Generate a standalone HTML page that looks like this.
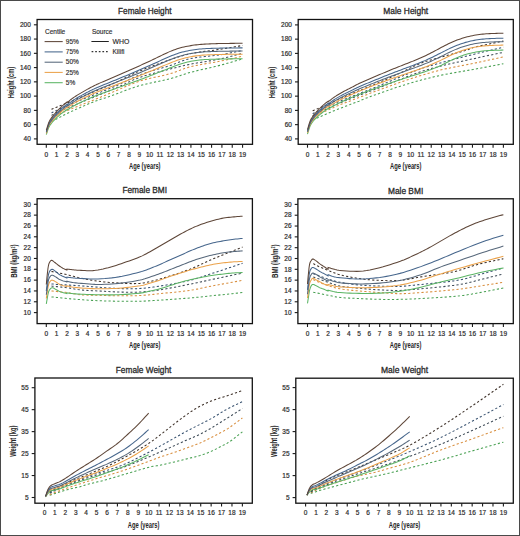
<!DOCTYPE html>
<html><head><meta charset="utf-8"><style>
html,body{margin:0;padding:0;background:#fff;}
svg{display:block;}
text{font-family:"Liberation Sans", sans-serif;fill:#2a2a2a;}
.tt{font-size:8.8px;font-weight:normal;fill:#2a2a2a;stroke:#2a2a2a;stroke-width:0.3px;}
.tl{font-size:6.5px;fill:#2e2e2e;stroke:#2e2e2e;stroke-width:0.2px;}
.al{font-size:8.4px;font-weight:bold;fill:#262626;}
.lg{font-size:6.5px;fill:#2e2e2e;stroke:#2e2e2e;stroke-width:0.15px;}
.box{fill:none;stroke:#121212;stroke-width:1.3;}
.tk{stroke:#1a1a1a;stroke-width:1.1;}
.cv{fill:none;stroke-width:1.05;}
</style></head><body>
<svg width="520" height="536" viewBox="0 0 520 536">
<rect x="0.5" y="0.5" width="519" height="535" fill="#fff" stroke="#4a4a4a" stroke-width="1"/>
<text x="144.80" y="14.20" class="tt" text-anchor="middle" textLength="53.5" lengthAdjust="spacingAndGlyphs">Female Height</text>
<path d="M51.46,121.43 L52.33,121.02 L53.19,120.61 L54.05,120.20 L54.91,119.78 L55.77,119.36 L56.63,118.93 L58.35,118.05 L60.07,117.15 L61.80,116.24 L63.52,115.33 L65.24,114.45 L66.96,113.58 L68.68,112.75 L70.40,111.93 L72.12,111.13 L73.85,110.35 L75.57,109.57 L77.29,108.81 L79.87,107.66 L82.45,106.51 L85.04,105.38 L87.62,104.27 L90.20,103.20 L92.78,102.17 L95.66,101.10 L98.54,100.09 L101.41,99.11 L104.29,98.15 L107.16,97.18 L110.04,96.18 L114.91,94.42 L119.78,92.58 L124.65,90.75 L129.53,88.96 L134.40,87.29 L139.27,85.77 L144.44,84.40 L149.60,83.21 L154.76,82.13 L159.93,81.08 L165.09,79.97 L170.26,78.71 L173.53,77.78 L176.80,76.73 L180.07,75.63 L183.34,74.52 L186.62,73.46 L189.89,72.51 L194.88,71.23 L199.87,70.04 L204.87,68.90 L209.86,67.78 L214.85,66.61 L219.84,65.38 L223.63,64.37 L227.42,63.30 L231.21,62.21 L234.99,61.10 L238.78,59.98 L242.57,58.89" stroke="#48a052" class="cv" stroke-dasharray="2.2,2.2"/>
<path d="M51.46,118.22 L52.33,117.74 L53.19,117.24 L54.05,116.75 L54.91,116.26 L55.77,115.80 L56.63,115.37 L58.35,114.55 L60.07,113.76 L61.80,112.98 L63.52,112.22 L65.24,111.48 L66.96,110.73 L68.68,110.00 L70.40,109.27 L72.12,108.56 L73.85,107.85 L75.57,107.15 L77.29,106.45 L80.73,105.08 L84.18,103.71 L87.62,102.35 L91.06,100.99 L94.51,99.63 L97.95,98.25 L99.96,97.43 L101.98,96.60 L103.99,95.77 L106.01,94.93 L108.02,94.09 L110.04,93.26 L114.91,91.20 L119.78,89.08 L124.65,86.96 L129.53,84.91 L134.40,82.99 L139.27,81.28 L144.44,79.75 L149.60,78.46 L154.76,77.31 L159.93,76.19 L165.09,75.00 L170.26,73.65 L173.53,72.61 L176.80,71.43 L180.07,70.18 L183.34,68.94 L186.62,67.82 L189.89,66.87 L194.88,65.73 L199.87,64.75 L204.87,63.88 L209.86,63.05 L214.85,62.19 L219.84,61.24 L223.63,60.45 L227.42,59.62 L231.21,58.77 L234.99,57.90 L238.78,57.03 L242.57,56.18" stroke="#d88e3e" class="cv" stroke-dasharray="2.2,2.2"/>
<path d="M51.46,115.37 L52.33,114.88 L53.19,114.38 L54.05,113.88 L54.91,113.39 L55.77,112.93 L56.63,112.51 L58.35,111.75 L60.07,111.02 L61.80,110.32 L63.52,109.63 L65.24,108.94 L66.96,108.24 L68.68,107.52 L70.40,106.81 L72.12,106.10 L73.85,105.38 L75.57,104.67 L77.29,103.96 L80.73,102.53 L84.18,101.10 L87.62,99.68 L91.06,98.25 L94.51,96.83 L97.95,95.40 L101.39,93.98 L104.84,92.57 L108.28,91.17 L111.72,89.75 L115.17,88.31 L118.61,86.84 L122.05,85.29 L125.50,83.65 L128.94,81.98 L132.38,80.37 L135.83,78.88 L139.27,77.57 L144.44,75.89 L149.60,74.37 L154.76,72.97 L159.93,71.64 L165.09,70.34 L170.26,69.01 L173.53,68.16 L176.80,67.32 L180.07,66.51 L183.34,65.73 L186.62,64.99 L189.89,64.31 L194.88,63.36 L199.87,62.51 L204.87,61.70 L209.86,60.88 L214.85,60.00 L219.84,59.03 L223.63,58.19 L227.42,57.27 L231.21,56.30 L234.99,55.30 L238.78,54.30 L242.57,53.33" stroke="#3f4c58" class="cv" stroke-dasharray="2.2,2.2"/>
<path d="M51.46,112.87 L52.33,112.45 L53.19,112.03 L54.05,111.61 L54.91,111.19 L55.77,110.78 L56.63,110.38 L58.35,109.58 L60.07,108.80 L61.80,108.02 L63.52,107.25 L65.24,106.49 L66.96,105.74 L68.68,105.00 L70.40,104.28 L72.12,103.56 L73.85,102.86 L75.57,102.16 L77.29,101.46 L80.73,100.08 L84.18,98.72 L87.62,97.37 L91.06,96.01 L94.51,94.64 L97.95,93.26 L101.39,91.87 L104.84,90.48 L108.28,89.07 L111.72,87.65 L115.17,86.20 L118.61,84.70 L122.05,83.11 L125.50,81.41 L128.94,79.67 L132.38,77.98 L135.83,76.40 L139.27,75.00 L144.44,73.19 L149.60,71.56 L154.76,70.03 L159.93,68.55 L165.09,67.05 L170.26,65.45 L173.53,64.31 L176.80,63.06 L180.07,61.79 L183.34,60.58 L186.62,59.51 L189.89,58.67 L194.88,57.76 L199.87,57.09 L204.87,56.57 L209.86,56.09 L214.85,55.57 L219.84,54.89 L223.63,54.26 L227.42,53.55 L231.21,52.79 L234.99,52.01 L238.78,51.23 L242.57,50.47" stroke="#36506e" class="cv" stroke-dasharray="2.2,2.2"/>
<path d="M51.46,109.23 L52.33,108.89 L53.19,108.54 L54.05,108.20 L54.91,107.85 L55.77,107.51 L56.63,107.17 L57.94,106.65 L59.25,106.13 L60.56,105.61 L61.86,105.09 L63.17,104.56 L64.48,104.03 L66.62,103.14 L68.75,102.23 L70.89,101.32 L73.02,100.41 L75.16,99.51 L77.29,98.61 L80.73,97.18 L84.18,95.76 L87.62,94.34 L91.06,92.92 L94.51,91.50 L97.95,90.05 L101.39,88.60 L104.84,87.15 L108.28,85.68 L111.72,84.20 L115.17,82.69 L118.61,81.14 L122.05,79.50 L125.50,77.78 L128.94,76.03 L132.38,74.31 L135.83,72.66 L139.27,71.15 L144.44,69.07 L149.60,67.08 L154.76,65.17 L159.93,63.32 L165.09,61.52 L170.26,59.74 L173.53,58.62 L176.80,57.52 L180.07,56.46 L183.34,55.47 L186.62,54.58 L189.89,53.82 L194.88,52.87 L199.87,52.08 L204.87,51.38 L209.86,50.73 L214.85,50.07 L219.84,49.33 L223.63,48.72 L227.42,48.09 L231.21,47.44 L234.99,46.78 L238.78,46.13 L242.57,45.48" stroke="#3e3129" class="cv" stroke-dasharray="2.2,2.2"/>
<path d="M46.30,134.59 L46.73,133.33 L47.16,132.02 L47.59,130.71 L48.02,129.44 L48.45,128.27 L48.88,127.24 L49.31,126.37 L49.74,125.63 L50.17,124.98 L50.60,124.40 L51.03,123.84 L51.46,123.27 L51.90,122.71 L52.33,122.20 L52.76,121.70 L53.19,121.23 L53.62,120.77 L54.05,120.31 L54.48,119.85 L54.91,119.39 L55.34,118.95 L55.77,118.52 L56.20,118.10 L56.63,117.70 L57.49,116.93 L58.35,116.16 L59.21,115.41 L60.07,114.68 L60.93,113.97 L61.80,113.28 L62.65,112.61 L63.51,111.95 L64.37,111.31 L65.23,110.70 L66.09,110.12 L66.95,109.56 L66.95,109.60 L66.95,109.69 L66.95,109.81 L66.96,109.93 L66.96,110.03 L66.96,110.06 L67.82,109.58 L68.68,109.05 L69.54,108.49 L70.40,107.93 L71.26,107.37 L72.12,106.85 L72.99,106.36 L73.85,105.88 L74.71,105.42 L75.57,104.96 L76.43,104.51 L77.29,104.06 L78.15,103.62 L79.01,103.19 L79.87,102.76 L80.73,102.34 L81.59,101.92 L82.45,101.52 L83.32,101.12 L84.18,100.74 L85.04,100.36 L85.90,99.98 L86.76,99.61 L87.62,99.23 L88.48,98.85 L89.34,98.47 L90.20,98.09 L91.06,97.71 L91.92,97.33 L92.78,96.97 L93.65,96.61 L94.51,96.26 L95.37,95.92 L96.23,95.58 L97.09,95.25 L97.95,94.92 L99.67,94.29 L101.39,93.67 L103.11,93.05 L104.84,92.44 L106.56,91.83 L108.28,91.21 L110.00,90.59 L111.72,89.97 L113.44,89.36 L115.17,88.74 L116.89,88.12 L118.61,87.50 L120.33,86.87 L122.05,86.24 L123.77,85.61 L125.50,84.97 L127.22,84.34 L128.94,83.71 L130.66,83.09 L132.38,82.47 L134.11,81.86 L135.83,81.24 L137.55,80.61 L139.27,79.97 L140.99,79.32 L142.71,78.66 L144.44,77.99 L146.16,77.32 L147.88,76.65 L149.60,75.98 L151.32,75.31 L153.04,74.64 L154.76,73.97 L156.49,73.30 L158.21,72.63 L159.93,71.95 L161.65,71.27 L163.37,70.57 L165.09,69.87 L166.82,69.17 L168.54,68.49 L170.26,67.81 L171.98,67.14 L173.70,66.47 L175.43,65.81 L177.15,65.16 L178.87,64.55 L180.59,63.99 L182.31,63.46 L184.03,62.97 L185.75,62.51 L187.48,62.08 L189.20,61.69 L190.92,61.33 L192.64,61.00 L194.36,60.72 L196.08,60.46 L197.81,60.24 L199.53,60.03 L201.25,59.86 L202.97,59.70 L204.69,59.59 L206.42,59.50 L208.14,59.42 L209.86,59.35 L211.58,59.28 L213.30,59.22 L215.02,59.16 L216.75,59.12 L218.47,59.07 L220.19,59.04 L221.91,59.00 L223.63,58.97 L225.35,58.94 L227.07,58.91 L228.80,58.89 L230.52,58.87 L232.24,58.86 L233.96,58.84 L235.68,58.83 L237.40,58.82 L239.13,58.81 L240.85,58.80 L242.57,58.79" stroke="#5cb565" class="cv"/>
<path d="M46.30,133.30 L46.73,132.01 L47.16,130.67 L47.59,129.33 L48.02,128.04 L48.45,126.85 L48.88,125.79 L49.31,124.90 L49.74,124.13 L50.17,123.46 L50.60,122.85 L51.03,122.26 L51.46,121.68 L51.90,121.10 L52.33,120.57 L52.76,120.06 L53.19,119.57 L53.62,119.09 L54.05,118.61 L54.48,118.13 L54.91,117.66 L55.34,117.20 L55.77,116.75 L56.20,116.32 L56.63,115.90 L57.49,115.09 L58.35,114.29 L59.21,113.51 L60.07,112.74 L60.93,112.00 L61.80,111.27 L62.65,110.56 L63.51,109.87 L64.37,109.20 L65.23,108.55 L66.09,107.94 L66.95,107.35 L66.95,107.39 L66.95,107.48 L66.95,107.60 L66.96,107.72 L66.96,107.81 L66.96,107.85 L67.82,107.33 L68.68,106.77 L69.54,106.17 L70.40,105.57 L71.26,104.98 L72.12,104.43 L72.99,103.90 L73.85,103.39 L74.71,102.88 L75.57,102.39 L76.43,101.91 L77.29,101.43 L78.15,100.97 L79.01,100.51 L79.87,100.06 L80.73,99.62 L81.59,99.18 L82.45,98.75 L83.32,98.32 L84.18,97.90 L85.04,97.48 L85.90,97.07 L86.76,96.66 L87.62,96.25 L88.48,95.85 L89.34,95.44 L90.20,95.03 L91.06,94.63 L91.92,94.24 L92.78,93.85 L93.65,93.47 L94.51,93.10 L95.37,92.73 L96.23,92.37 L97.09,92.01 L97.95,91.67 L99.67,91.00 L101.39,90.34 L103.11,89.69 L104.84,89.04 L106.56,88.40 L108.28,87.75 L110.00,87.09 L111.72,86.44 L113.44,85.79 L115.17,85.14 L116.89,84.48 L118.61,83.83 L120.33,83.17 L122.05,82.50 L123.77,81.84 L125.50,81.17 L127.22,80.50 L128.94,79.83 L130.66,79.17 L132.38,78.51 L134.11,77.84 L135.83,77.17 L137.55,76.50 L139.27,75.82 L140.99,75.13 L142.71,74.44 L144.44,73.73 L146.16,73.03 L147.88,72.32 L149.60,71.61 L151.32,70.90 L153.04,70.19 L154.76,69.47 L156.49,68.75 L158.21,68.03 L159.93,67.31 L161.65,66.58 L163.37,65.85 L165.09,65.11 L166.82,64.37 L168.54,63.66 L170.26,62.97 L171.98,62.29 L173.70,61.62 L175.43,60.97 L177.15,60.35 L178.87,59.76 L180.59,59.21 L182.31,58.70 L184.03,58.24 L185.75,57.80 L187.48,57.40 L189.20,57.03 L190.92,56.69 L192.64,56.38 L194.36,56.11 L196.08,55.86 L197.81,55.65 L199.53,55.46 L201.25,55.28 L202.97,55.14 L204.69,55.02 L206.42,54.93 L208.14,54.85 L209.86,54.78 L211.58,54.71 L213.30,54.65 L215.02,54.59 L216.75,54.55 L218.47,54.50 L220.19,54.47 L221.91,54.43 L223.63,54.40 L225.35,54.37 L227.07,54.34 L228.80,54.32 L230.52,54.30 L232.24,54.29 L233.96,54.27 L235.68,54.26 L237.40,54.25 L239.13,54.24 L240.85,54.23 L242.57,54.22" stroke="#eba24a" class="cv"/>
<path d="M46.30,132.41 L46.73,131.10 L47.16,129.74 L47.59,128.38 L48.02,127.07 L48.45,125.85 L48.88,124.78 L49.31,123.87 L49.74,123.08 L50.17,122.40 L50.60,121.77 L51.03,121.17 L51.46,120.57 L51.90,119.98 L52.33,119.43 L52.76,118.91 L53.19,118.41 L53.62,117.92 L54.05,117.43 L54.48,116.94 L54.91,116.46 L55.34,115.99 L55.77,115.53 L56.20,115.08 L56.63,114.65 L57.49,113.82 L58.35,113.00 L59.21,112.19 L60.07,111.40 L60.93,110.63 L61.80,109.88 L62.65,109.15 L63.51,108.43 L64.37,107.74 L65.23,107.06 L66.09,106.42 L66.95,105.81 L66.95,105.85 L66.95,105.94 L66.95,106.06 L66.96,106.18 L66.96,106.27 L66.96,106.31 L67.82,105.77 L68.68,105.18 L69.54,104.56 L70.40,103.94 L71.26,103.33 L72.12,102.74 L72.99,102.19 L73.85,101.65 L74.71,101.13 L75.57,100.61 L76.43,100.10 L77.29,99.61 L78.15,99.12 L79.01,98.65 L79.87,98.19 L80.73,97.73 L81.59,97.28 L82.45,96.83 L83.32,96.38 L84.18,95.93 L85.04,95.49 L85.90,95.05 L86.76,94.62 L87.62,94.19 L88.48,93.76 L89.34,93.34 L90.20,92.92 L91.06,92.50 L91.92,92.09 L92.78,91.69 L93.65,91.29 L94.51,90.90 L95.37,90.52 L96.23,90.14 L97.09,89.77 L97.95,89.41 L99.67,88.71 L101.39,88.03 L103.11,87.36 L104.84,86.69 L106.56,86.02 L108.28,85.34 L110.00,84.67 L111.72,83.99 L113.44,83.32 L115.17,82.64 L116.89,81.96 L118.61,81.28 L120.33,80.60 L122.05,79.91 L123.77,79.22 L125.50,78.53 L127.22,77.84 L128.94,77.14 L130.66,76.45 L132.38,75.75 L134.11,75.05 L135.83,74.35 L137.55,73.65 L139.27,72.94 L140.99,72.22 L142.71,71.50 L144.44,70.78 L146.16,70.05 L147.88,69.32 L149.60,68.59 L151.32,67.85 L153.04,67.10 L154.76,66.35 L156.49,65.60 L158.21,64.84 L159.93,64.09 L161.65,63.34 L163.37,62.57 L165.09,61.80 L166.82,61.04 L168.54,60.30 L170.26,59.60 L171.98,58.92 L173.70,58.26 L175.43,57.62 L177.15,57.00 L178.87,56.43 L180.59,55.89 L182.31,55.40 L184.03,54.95 L185.75,54.53 L187.48,54.15 L189.20,53.79 L190.92,53.47 L192.64,53.17 L194.36,52.91 L196.08,52.67 L197.81,52.47 L199.53,52.28 L201.25,52.11 L202.97,51.97 L204.69,51.85 L206.42,51.76 L208.14,51.68 L209.86,51.61 L211.58,51.54 L213.30,51.48 L215.02,51.42 L216.75,51.37 L218.47,51.33 L220.19,51.29 L221.91,51.26 L223.63,51.22 L225.35,51.20 L227.07,51.17 L228.80,51.15 L230.52,51.13 L232.24,51.11 L233.96,51.10 L235.68,51.09 L237.40,51.07 L239.13,51.06 L240.85,51.05 L242.57,51.04" stroke="#56677a" class="cv"/>
<path d="M46.30,131.52 L46.73,130.19 L47.16,128.81 L47.59,127.43 L48.02,126.10 L48.45,124.86 L48.88,123.77 L49.31,122.84 L49.74,122.04 L50.17,121.34 L50.60,120.69 L51.03,120.08 L51.46,119.47 L51.90,118.86 L52.33,118.30 L52.76,117.77 L53.19,117.26 L53.62,116.76 L54.05,116.26 L54.48,115.76 L54.91,115.26 L55.34,114.78 L55.77,114.30 L56.20,113.85 L56.63,113.40 L57.49,112.55 L58.35,111.70 L59.21,110.87 L60.07,110.05 L60.93,109.26 L61.80,108.48 L62.65,107.73 L63.51,106.99 L64.37,106.27 L65.23,105.57 L66.09,104.91 L66.95,104.27 L66.95,104.31 L66.95,104.40 L66.95,104.52 L66.96,104.64 L66.96,104.74 L66.96,104.77 L67.82,104.21 L68.68,103.59 L69.54,102.95 L70.40,102.30 L71.26,101.67 L72.12,101.06 L72.99,100.49 L73.85,99.92 L74.71,99.37 L75.57,98.83 L76.43,98.30 L77.29,97.78 L78.15,97.28 L79.01,96.79 L79.87,96.31 L80.73,95.84 L81.59,95.37 L82.45,94.90 L83.32,94.43 L84.18,93.96 L85.04,93.49 L85.90,93.03 L86.76,92.57 L87.62,92.12 L88.48,91.67 L89.34,91.23 L90.20,90.80 L91.06,90.37 L91.92,89.95 L92.78,89.53 L93.65,89.12 L94.51,88.71 L95.37,88.30 L96.23,87.91 L97.09,87.52 L97.95,87.15 L99.67,86.43 L101.39,85.72 L103.11,85.02 L104.84,84.33 L106.56,83.64 L108.28,82.94 L110.00,82.24 L111.72,81.54 L113.44,80.84 L115.17,80.14 L116.89,79.44 L118.61,78.73 L120.33,78.02 L122.05,77.32 L123.77,76.60 L125.50,75.89 L127.22,75.17 L128.94,74.45 L130.66,73.73 L132.38,73.00 L134.11,72.27 L135.83,71.53 L137.55,70.79 L139.27,70.05 L140.99,69.31 L142.71,68.57 L144.44,67.82 L146.16,67.07 L147.88,66.32 L149.60,65.56 L151.32,64.79 L153.04,64.01 L154.76,63.22 L156.49,62.44 L158.21,61.65 L159.93,60.87 L161.65,60.09 L163.37,59.29 L165.09,58.49 L166.82,57.71 L168.54,56.95 L170.26,56.24 L171.98,55.55 L173.70,54.89 L175.43,54.26 L177.15,53.66 L178.87,53.10 L180.59,52.58 L182.31,52.10 L184.03,51.66 L185.75,51.26 L187.48,50.90 L189.20,50.56 L190.92,50.25 L192.64,49.96 L194.36,49.71 L196.08,49.48 L197.81,49.28 L199.53,49.10 L201.25,48.94 L202.97,48.80 L204.69,48.69 L206.42,48.59 L208.14,48.51 L209.86,48.44 L211.58,48.37 L213.30,48.30 L215.02,48.25 L216.75,48.20 L218.47,48.16 L220.19,48.12 L221.91,48.08 L223.63,48.05 L225.35,48.02 L227.07,48.00 L228.80,47.98 L230.52,47.96 L232.24,47.94 L233.96,47.93 L235.68,47.91 L237.40,47.90 L239.13,47.89 L240.85,47.88 L242.57,47.87" stroke="#46668c" class="cv"/>
<path d="M46.30,130.23 L46.73,128.87 L47.16,127.46 L47.59,126.06 L48.02,124.70 L48.45,123.43 L48.88,122.32 L49.31,121.36 L49.74,120.54 L50.17,119.81 L50.60,119.14 L51.03,118.51 L51.46,117.87 L51.90,117.25 L52.33,116.67 L52.76,116.12 L53.19,115.60 L53.62,115.08 L54.05,114.56 L54.48,114.04 L54.91,113.53 L55.34,113.03 L55.77,112.54 L56.20,112.06 L56.63,111.60 L57.49,110.71 L58.35,109.83 L59.21,108.96 L60.07,108.11 L60.93,107.28 L61.80,106.47 L62.65,105.69 L63.51,104.91 L64.37,104.16 L65.23,103.43 L66.09,102.73 L66.95,102.06 L66.95,102.09 L66.95,102.19 L66.95,102.31 L66.96,102.43 L66.96,102.52 L66.96,102.56 L67.82,101.96 L68.68,101.31 L69.54,100.63 L70.40,99.95 L71.26,99.28 L72.12,98.64 L72.99,98.03 L73.85,97.43 L74.71,96.84 L75.57,96.26 L76.43,95.70 L77.29,95.15 L78.15,94.62 L79.01,94.11 L79.87,93.61 L80.73,93.12 L81.59,92.63 L82.45,92.13 L83.32,91.63 L84.18,91.12 L85.04,90.62 L85.90,90.12 L86.76,89.63 L87.62,89.14 L88.48,88.67 L89.34,88.21 L90.20,87.75 L91.06,87.30 L91.92,86.85 L92.78,86.41 L93.65,85.98 L94.51,85.54 L95.37,85.11 L96.23,84.70 L97.09,84.29 L97.95,83.90 L99.67,83.14 L101.39,82.39 L103.11,81.66 L104.84,80.94 L106.56,80.21 L108.28,79.48 L110.00,78.74 L111.72,78.01 L113.44,77.27 L115.17,76.54 L116.89,75.80 L118.61,75.06 L120.33,74.32 L122.05,73.58 L123.77,72.83 L125.50,72.09 L127.22,71.33 L128.94,70.57 L130.66,69.81 L132.38,69.03 L134.11,68.25 L135.83,67.47 L137.55,66.68 L139.27,65.90 L140.99,65.12 L142.71,64.34 L144.44,63.56 L146.16,62.78 L147.88,61.99 L149.60,61.20 L151.32,60.38 L153.04,59.56 L154.76,58.72 L156.49,57.89 L158.21,57.06 L159.93,56.23 L161.65,55.40 L163.37,54.56 L165.09,53.73 L166.82,52.91 L168.54,52.12 L170.26,51.39 L171.98,50.70 L173.70,50.05 L175.43,49.43 L177.15,48.84 L178.87,48.30 L180.59,47.80 L182.31,47.34 L184.03,46.93 L185.75,46.56 L187.48,46.22 L189.20,45.90 L190.92,45.61 L192.64,45.34 L194.36,45.10 L196.08,44.89 L197.81,44.70 L199.53,44.53 L201.25,44.37 L202.97,44.23 L204.69,44.12 L206.42,44.03 L208.14,43.94 L209.86,43.87 L211.58,43.80 L213.30,43.73 L215.02,43.68 L216.75,43.63 L218.47,43.59 L220.19,43.55 L221.91,43.51 L223.63,43.48 L225.35,43.45 L227.07,43.43 L228.80,43.41 L230.52,43.39 L232.24,43.37 L233.96,43.36 L235.68,43.34 L237.40,43.33 L239.13,43.32 L240.85,43.31 L242.57,43.30" stroke="#5e4638" class="cv"/>
<rect x="37.10" y="19.50" width="215.40" height="124.80" class="box"/>
<line x1="33.90" y1="138.90" x2="37.10" y2="138.90" class="tk"/>
<text x="30.80" y="141.10" class="tl" text-anchor="end">40</text>
<line x1="33.90" y1="124.64" x2="37.10" y2="124.64" class="tk"/>
<text x="30.80" y="126.84" class="tl" text-anchor="end">60</text>
<line x1="33.90" y1="110.38" x2="37.10" y2="110.38" class="tk"/>
<text x="30.80" y="112.58" class="tl" text-anchor="end">80</text>
<line x1="33.90" y1="96.11" x2="37.10" y2="96.11" class="tk"/>
<text x="30.80" y="98.31" class="tl" text-anchor="end">100</text>
<line x1="33.90" y1="81.85" x2="37.10" y2="81.85" class="tk"/>
<text x="30.80" y="84.05" class="tl" text-anchor="end">120</text>
<line x1="33.90" y1="67.59" x2="37.10" y2="67.59" class="tk"/>
<text x="30.80" y="69.79" class="tl" text-anchor="end">140</text>
<line x1="33.90" y1="53.33" x2="37.10" y2="53.33" class="tk"/>
<text x="30.80" y="55.53" class="tl" text-anchor="end">160</text>
<line x1="33.90" y1="39.06" x2="37.10" y2="39.06" class="tk"/>
<text x="30.80" y="41.26" class="tl" text-anchor="end">180</text>
<line x1="33.90" y1="24.80" x2="37.10" y2="24.80" class="tk"/>
<text x="30.80" y="27.00" class="tl" text-anchor="end">200</text>
<line x1="46.30" y1="144.30" x2="46.30" y2="147.70" class="tk"/>
<text x="46.30" y="156.50" class="tl" text-anchor="middle">0</text>
<line x1="56.63" y1="144.30" x2="56.63" y2="147.70" class="tk"/>
<text x="56.63" y="156.50" class="tl" text-anchor="middle">1</text>
<line x1="66.96" y1="144.30" x2="66.96" y2="147.70" class="tk"/>
<text x="66.96" y="156.50" class="tl" text-anchor="middle">2</text>
<line x1="77.29" y1="144.30" x2="77.29" y2="147.70" class="tk"/>
<text x="77.29" y="156.50" class="tl" text-anchor="middle">3</text>
<line x1="87.62" y1="144.30" x2="87.62" y2="147.70" class="tk"/>
<text x="87.62" y="156.50" class="tl" text-anchor="middle">4</text>
<line x1="97.95" y1="144.30" x2="97.95" y2="147.70" class="tk"/>
<text x="97.95" y="156.50" class="tl" text-anchor="middle">5</text>
<line x1="108.28" y1="144.30" x2="108.28" y2="147.70" class="tk"/>
<text x="108.28" y="156.50" class="tl" text-anchor="middle">6</text>
<line x1="118.61" y1="144.30" x2="118.61" y2="147.70" class="tk"/>
<text x="118.61" y="156.50" class="tl" text-anchor="middle">7</text>
<line x1="128.94" y1="144.30" x2="128.94" y2="147.70" class="tk"/>
<text x="128.94" y="156.50" class="tl" text-anchor="middle">8</text>
<line x1="139.27" y1="144.30" x2="139.27" y2="147.70" class="tk"/>
<text x="139.27" y="156.50" class="tl" text-anchor="middle">9</text>
<line x1="149.60" y1="144.30" x2="149.60" y2="147.70" class="tk"/>
<text x="149.60" y="156.50" class="tl" text-anchor="middle">10</text>
<line x1="159.93" y1="144.30" x2="159.93" y2="147.70" class="tk"/>
<text x="159.93" y="156.50" class="tl" text-anchor="middle">11</text>
<line x1="170.26" y1="144.30" x2="170.26" y2="147.70" class="tk"/>
<text x="170.26" y="156.50" class="tl" text-anchor="middle">12</text>
<line x1="180.59" y1="144.30" x2="180.59" y2="147.70" class="tk"/>
<text x="180.59" y="156.50" class="tl" text-anchor="middle">13</text>
<line x1="190.92" y1="144.30" x2="190.92" y2="147.70" class="tk"/>
<text x="190.92" y="156.50" class="tl" text-anchor="middle">14</text>
<line x1="201.25" y1="144.30" x2="201.25" y2="147.70" class="tk"/>
<text x="201.25" y="156.50" class="tl" text-anchor="middle">15</text>
<line x1="211.58" y1="144.30" x2="211.58" y2="147.70" class="tk"/>
<text x="211.58" y="156.50" class="tl" text-anchor="middle">16</text>
<line x1="221.91" y1="144.30" x2="221.91" y2="147.70" class="tk"/>
<text x="221.91" y="156.50" class="tl" text-anchor="middle">17</text>
<line x1="232.24" y1="144.30" x2="232.24" y2="147.70" class="tk"/>
<text x="232.24" y="156.50" class="tl" text-anchor="middle">18</text>
<line x1="242.57" y1="144.30" x2="242.57" y2="147.70" class="tk"/>
<text x="242.57" y="156.50" class="tl" text-anchor="middle">19</text>
<text x="144.80" y="168.60" class="al" text-anchor="middle" textLength="31.5" lengthAdjust="spacingAndGlyphs">Age (years)</text>
<text transform="translate(14.30,82.50) rotate(-90)" class="al" text-anchor="middle" textLength="31.5" lengthAdjust="spacingAndGlyphs">Height (cm)</text>
<text x="405.75" y="14.20" class="tt" text-anchor="middle" textLength="44.9" lengthAdjust="spacingAndGlyphs">Male Height</text>
<path d="M312.65,120.02 L313.51,119.62 L314.37,119.23 L315.23,118.83 L316.09,118.44 L316.95,118.05 L317.81,117.67 L319.53,116.92 L321.25,116.18 L322.96,115.44 L324.68,114.70 L326.40,113.98 L328.12,113.25 L329.84,112.52 L331.56,111.80 L333.27,111.07 L334.99,110.36 L336.71,109.66 L338.43,108.97 L341.87,107.65 L345.30,106.34 L348.74,105.05 L352.18,103.77 L355.61,102.46 L359.05,101.14 L360.05,100.73 L361.04,100.29 L362.04,99.85 L363.04,99.40 L364.03,98.97 L365.03,98.57 L367.47,97.66 L369.91,96.76 L372.35,95.88 L374.79,95.02 L377.23,94.16 L379.67,93.30 L383.11,92.09 L386.54,90.87 L389.98,89.66 L393.42,88.46 L396.85,87.30 L400.29,86.17 L403.55,85.14 L406.82,84.14 L410.08,83.16 L413.35,82.21 L416.61,81.29 L419.88,80.40 L423.49,79.44 L427.10,78.50 L430.70,77.59 L434.31,76.72 L437.92,75.90 L441.53,75.13 L447.89,73.89 L454.25,72.73 L460.60,71.62 L466.96,70.53 L473.32,69.43 L479.68,68.29 L483.63,67.55 L487.58,66.80 L491.53,66.04 L495.49,65.27 L499.44,64.50 L503.39,63.73" stroke="#48a052" class="cv" stroke-dasharray="2.2,2.2"/>
<path d="M312.65,117.53 L313.51,117.04 L314.37,116.55 L315.23,116.06 L316.09,115.57 L316.95,115.11 L317.81,114.68 L319.53,113.86 L321.25,113.08 L322.96,112.31 L324.68,111.56 L326.40,110.81 L328.12,110.04 L329.84,109.26 L331.56,108.46 L333.27,107.67 L334.99,106.89 L336.71,106.13 L338.43,105.41 L341.87,104.05 L345.30,102.73 L348.74,101.43 L352.18,100.15 L355.61,98.87 L359.05,97.57 L362.49,96.26 L365.92,94.95 L369.36,93.63 L372.80,92.32 L376.23,91.02 L379.67,89.74 L383.11,88.46 L386.54,87.19 L389.98,85.93 L393.42,84.68 L396.85,83.46 L400.29,82.26 L403.55,81.13 L406.82,80.03 L410.08,78.94 L413.35,77.88 L416.61,76.85 L419.88,75.84 L423.49,74.75 L427.10,73.68 L430.70,72.63 L434.31,71.62 L437.92,70.67 L441.53,69.79 L447.11,68.55 L452.70,67.40 L458.28,66.30 L463.87,65.23 L469.45,64.15 L475.04,63.02 L479.76,62.02 L484.49,61.01 L489.21,59.98 L493.94,58.95 L498.66,57.92 L503.39,56.89" stroke="#d88e3e" class="cv" stroke-dasharray="2.2,2.2"/>
<path d="M312.65,115.74 L313.51,115.26 L314.37,114.77 L315.23,114.27 L316.09,113.79 L316.95,113.33 L317.81,112.89 L319.53,112.08 L321.25,111.30 L322.96,110.53 L324.68,109.78 L326.40,109.03 L328.12,108.26 L329.84,107.48 L331.56,106.69 L333.27,105.90 L334.99,105.12 L336.71,104.36 L338.43,103.63 L341.87,102.22 L345.30,100.83 L348.74,99.47 L352.18,98.12 L355.61,96.77 L359.05,95.44 L362.49,94.11 L365.92,92.81 L369.36,91.52 L372.80,90.23 L376.23,88.92 L379.67,87.60 L383.11,86.25 L386.54,84.88 L389.98,83.51 L393.42,82.13 L396.85,80.76 L400.29,79.41 L403.55,78.12 L406.82,76.81 L410.08,75.51 L413.35,74.25 L416.61,73.05 L419.88,71.92 L423.49,70.78 L427.10,69.70 L430.70,68.67 L434.31,67.70 L437.92,66.77 L441.53,65.87 L447.11,64.53 L452.70,63.25 L458.28,62.02 L463.87,60.80 L469.45,59.60 L475.04,58.39 L479.76,57.36 L484.49,56.35 L489.21,55.34 L493.94,54.34 L498.66,53.34 L503.39,52.33" stroke="#3f4c58" class="cv" stroke-dasharray="2.2,2.2"/>
<path d="M312.65,113.61 L313.51,113.19 L314.37,112.77 L315.23,112.34 L316.09,111.93 L316.95,111.51 L317.81,111.11 L319.53,110.33 L321.25,109.55 L322.96,108.78 L324.68,108.02 L326.40,107.25 L328.12,106.48 L329.84,105.70 L331.56,104.91 L333.27,104.12 L334.99,103.34 L336.71,102.58 L338.43,101.85 L341.87,100.44 L345.30,99.07 L348.74,97.71 L352.18,96.36 L355.61,95.01 L359.05,93.66 L362.49,92.29 L365.92,90.94 L369.36,89.58 L372.80,88.22 L376.23,86.85 L379.67,85.46 L383.11,84.05 L386.54,82.63 L389.98,81.19 L393.42,79.75 L396.85,78.32 L400.29,76.91 L403.55,75.56 L406.82,74.20 L410.08,72.84 L413.35,71.52 L416.61,70.25 L419.88,69.07 L423.49,67.87 L427.10,66.74 L430.70,65.67 L434.31,64.65 L437.92,63.65 L441.53,62.66 L447.11,61.15 L452.70,59.67 L458.28,58.22 L463.87,56.79 L469.45,55.38 L475.04,53.97 L479.76,52.80 L484.49,51.65 L489.21,50.52 L493.94,49.39 L498.66,48.26 L503.39,47.13" stroke="#36506e" class="cv" stroke-dasharray="2.2,2.2"/>
<path d="M312.65,110.83 L313.51,110.46 L314.37,110.09 L315.23,109.72 L316.09,109.35 L316.95,108.98 L317.81,108.62 L319.53,107.91 L321.25,107.21 L322.96,106.52 L324.68,105.82 L326.40,105.10 L328.12,104.34 L329.84,103.54 L331.56,102.70 L333.27,101.84 L334.99,100.97 L336.71,100.14 L338.43,99.36 L341.87,97.88 L345.30,96.44 L348.74,95.02 L352.18,93.62 L355.61,92.22 L359.05,90.81 L362.49,89.39 L365.92,87.98 L369.36,86.58 L372.80,85.16 L376.23,83.72 L379.67,82.26 L383.11,80.76 L386.54,79.24 L389.98,77.71 L393.42,76.15 L396.85,74.58 L400.29,72.99 L403.55,71.42 L406.82,69.77 L410.08,68.11 L413.35,66.48 L416.61,64.96 L419.88,63.59 L423.49,62.27 L427.10,61.08 L430.70,60.00 L434.31,58.98 L437.92,57.98 L441.53,56.96 L445.48,55.86 L449.43,54.81 L453.39,53.77 L457.34,52.74 L461.29,51.67 L465.24,50.55 L466.88,50.02 L468.51,49.42 L470.14,48.78 L471.77,48.16 L473.41,47.60 L475.04,47.13 L479.76,46.01 L484.49,44.97 L489.21,43.98 L493.94,43.02 L498.66,42.06 L503.39,41.07" stroke="#3e3129" class="cv" stroke-dasharray="2.2,2.2"/>
<path d="M307.50,134.06 L307.93,132.69 L308.36,131.28 L308.79,129.86 L309.22,128.49 L309.65,127.23 L310.08,126.11 L310.51,125.17 L310.94,124.36 L311.37,123.65 L311.80,123.01 L312.23,122.41 L312.65,121.81 L313.08,121.24 L313.51,120.73 L313.94,120.25 L314.37,119.80 L314.80,119.36 L315.23,118.91 L315.66,118.46 L316.09,118.03 L316.52,117.60 L316.95,117.18 L317.38,116.78 L317.81,116.39 L318.67,115.65 L319.53,114.92 L320.39,114.21 L321.25,113.51 L322.11,112.83 L322.96,112.16 L323.82,111.50 L324.68,110.85 L325.54,110.22 L326.39,109.61 L327.25,109.03 L328.11,108.48 L328.11,108.51 L328.11,108.60 L328.11,108.73 L328.12,108.85 L328.12,108.94 L328.12,108.97 L328.98,108.54 L329.84,108.05 L330.70,107.54 L331.56,107.02 L332.42,106.51 L333.27,106.02 L334.13,105.56 L334.99,105.11 L335.85,104.67 L336.71,104.24 L337.57,103.81 L338.43,103.38 L339.29,102.96 L340.15,102.54 L341.01,102.12 L341.87,101.71 L342.73,101.30 L343.58,100.91 L344.44,100.53 L345.30,100.16 L346.16,99.80 L347.02,99.44 L347.88,99.08 L348.74,98.72 L349.60,98.35 L350.46,97.99 L351.32,97.62 L352.18,97.25 L353.04,96.89 L353.89,96.53 L354.75,96.19 L355.61,95.85 L356.47,95.52 L357.33,95.20 L358.19,94.87 L359.05,94.53 L360.77,93.86 L362.49,93.18 L364.20,92.49 L365.92,91.82 L367.64,91.15 L369.36,90.49 L371.08,89.85 L372.80,89.23 L374.51,88.61 L376.23,88.00 L377.95,87.39 L379.67,86.78 L381.39,86.17 L383.11,85.56 L384.82,84.95 L386.54,84.34 L388.26,83.74 L389.98,83.15 L391.70,82.56 L393.42,81.99 L395.13,81.41 L396.85,80.85 L398.57,80.28 L400.29,79.72 L402.01,79.16 L403.73,78.60 L405.44,78.04 L407.16,77.48 L408.88,76.92 L410.60,76.37 L412.32,75.82 L414.04,75.27 L415.75,74.73 L417.47,74.18 L419.19,73.63 L420.91,73.06 L422.63,72.49 L424.35,71.92 L426.06,71.34 L427.78,70.74 L429.50,70.13 L431.22,69.49 L432.94,68.82 L434.66,68.13 L436.38,67.42 L438.09,66.69 L439.81,65.93 L441.53,65.16 L443.25,64.34 L444.97,63.48 L446.69,62.59 L448.40,61.71 L450.12,60.85 L451.84,60.03 L453.56,59.24 L455.28,58.46 L457.00,57.70 L458.71,56.98 L460.43,56.29 L462.15,55.66 L463.87,55.08 L465.59,54.54 L467.31,54.05 L469.02,53.59 L470.74,53.16 L472.46,52.76 L474.18,52.39 L475.90,52.05 L477.62,51.75 L479.33,51.47 L481.05,51.22 L482.77,51.01 L484.49,50.83 L486.21,50.70 L487.93,50.60 L489.64,50.51 L491.36,50.44 L493.08,50.37 L494.80,50.30 L496.52,50.25 L498.24,50.20 L499.95,50.16 L501.67,50.13 L503.39,50.08" stroke="#5cb565" class="cv"/>
<path d="M307.50,132.75 L307.93,131.36 L308.36,129.92 L308.79,128.47 L309.22,127.08 L309.65,125.79 L310.08,124.66 L310.51,123.70 L310.94,122.88 L311.37,122.16 L311.80,121.51 L312.23,120.90 L312.65,120.29 L313.08,119.70 L313.51,119.16 L313.94,118.66 L314.37,118.18 L314.80,117.72 L315.23,117.25 L315.66,116.79 L316.09,116.34 L316.52,115.90 L316.95,115.48 L317.38,115.06 L317.81,114.66 L318.67,113.88 L319.53,113.10 L320.39,112.34 L321.25,111.59 L322.11,110.86 L322.96,110.15 L323.82,109.47 L324.68,108.79 L325.54,108.14 L326.39,107.51 L327.25,106.90 L328.11,106.33 L328.11,106.37 L328.11,106.46 L328.11,106.58 L328.12,106.70 L328.12,106.79 L328.12,106.83 L328.98,106.35 L329.84,105.81 L330.70,105.26 L331.56,104.69 L332.42,104.13 L333.27,103.60 L334.13,103.10 L334.99,102.62 L335.85,102.14 L336.71,101.67 L337.57,101.21 L338.43,100.75 L339.29,100.30 L340.15,99.86 L341.01,99.42 L341.87,98.98 L342.73,98.56 L343.58,98.14 L344.44,97.74 L345.30,97.35 L346.16,96.96 L347.02,96.58 L347.88,96.20 L348.74,95.82 L349.60,95.43 L350.46,95.04 L351.32,94.65 L352.18,94.26 L353.04,93.87 L353.89,93.49 L354.75,93.11 L355.61,92.74 L356.47,92.37 L357.33,92.00 L358.19,91.64 L359.05,91.28 L360.77,90.57 L362.49,89.87 L364.20,89.17 L365.92,88.47 L367.64,87.78 L369.36,87.10 L371.08,86.43 L372.80,85.78 L374.51,85.12 L376.23,84.48 L377.95,83.83 L379.67,83.19 L381.39,82.54 L383.11,81.89 L384.82,81.25 L386.54,80.60 L388.26,79.97 L389.98,79.34 L391.70,78.72 L393.42,78.11 L395.13,77.51 L396.85,76.91 L398.57,76.31 L400.29,75.71 L402.01,75.11 L403.73,74.52 L405.44,73.92 L407.16,73.33 L408.88,72.74 L410.60,72.15 L412.32,71.56 L414.04,70.97 L415.75,70.38 L417.47,69.79 L419.19,69.18 L420.91,68.56 L422.63,67.93 L424.35,67.29 L426.06,66.64 L427.78,65.97 L429.50,65.28 L431.22,64.58 L432.94,63.84 L434.66,63.09 L436.38,62.31 L438.09,61.52 L439.81,60.71 L441.53,59.90 L443.25,59.06 L444.97,58.19 L446.69,57.31 L448.40,56.43 L450.12,55.58 L451.84,54.77 L453.56,54.00 L455.28,53.24 L457.00,52.51 L458.71,51.81 L460.43,51.15 L462.15,50.54 L463.87,49.98 L465.59,49.45 L467.31,48.97 L469.02,48.52 L470.74,48.10 L472.46,47.71 L474.18,47.36 L475.90,47.03 L477.62,46.73 L479.33,46.47 L481.05,46.24 L482.77,46.03 L484.49,45.86 L486.21,45.72 L487.93,45.62 L489.64,45.54 L491.36,45.46 L493.08,45.39 L494.80,45.32 L496.52,45.26 L498.24,45.22 L499.95,45.18 L501.67,45.14 L503.39,45.10" stroke="#eba24a" class="cv"/>
<path d="M307.50,131.85 L307.93,130.44 L308.36,128.98 L308.79,127.51 L309.22,126.10 L309.65,124.80 L310.08,123.65 L310.51,122.68 L310.94,121.85 L311.37,121.13 L311.80,120.47 L312.23,119.85 L312.65,119.24 L313.08,118.63 L313.51,118.08 L313.94,117.56 L314.37,117.06 L314.80,116.58 L315.23,116.10 L315.66,115.63 L316.09,115.17 L316.52,114.73 L316.95,114.30 L317.38,113.88 L317.81,113.46 L318.67,112.65 L319.53,111.84 L320.39,111.04 L321.25,110.26 L322.11,109.50 L322.96,108.76 L323.82,108.05 L324.68,107.36 L325.54,106.69 L326.39,106.05 L327.25,105.43 L328.11,104.84 L328.11,104.88 L328.11,104.97 L328.11,105.09 L328.12,105.21 L328.12,105.30 L328.12,105.34 L328.98,104.82 L329.84,104.26 L330.70,103.67 L331.56,103.07 L332.42,102.48 L333.27,101.92 L334.13,101.39 L334.99,100.88 L335.85,100.38 L336.71,99.89 L337.57,99.41 L338.43,98.93 L339.29,98.46 L340.15,97.99 L341.01,97.54 L341.87,97.09 L342.73,96.65 L343.58,96.22 L344.44,95.80 L345.30,95.39 L346.16,94.99 L347.02,94.60 L347.88,94.20 L348.74,93.80 L349.60,93.39 L350.46,92.99 L351.32,92.58 L352.18,92.18 L353.04,91.78 L353.89,91.38 L354.75,90.98 L355.61,90.58 L356.47,90.18 L357.33,89.78 L358.19,89.40 L359.05,89.03 L360.77,88.29 L362.49,87.57 L364.20,86.86 L365.92,86.15 L367.64,85.45 L369.36,84.75 L371.08,84.06 L372.80,83.38 L374.51,82.70 L376.23,82.03 L377.95,81.36 L379.67,80.69 L381.39,80.02 L383.11,79.35 L384.82,78.68 L386.54,78.01 L388.26,77.35 L389.98,76.70 L391.70,76.06 L393.42,75.42 L395.13,74.79 L396.85,74.17 L398.57,73.55 L400.29,72.92 L402.01,72.30 L403.73,71.68 L405.44,71.07 L407.16,70.46 L408.88,69.84 L410.60,69.22 L412.32,68.60 L414.04,67.98 L415.75,67.37 L417.47,66.74 L419.19,66.10 L420.91,65.44 L422.63,64.77 L424.35,64.08 L426.06,63.38 L427.78,62.66 L429.50,61.92 L431.22,61.17 L432.94,60.39 L434.66,59.58 L436.38,58.76 L438.09,57.93 L439.81,57.09 L441.53,56.25 L443.25,55.40 L444.97,54.52 L446.69,53.64 L448.40,52.76 L450.12,51.92 L451.84,51.12 L453.56,50.36 L455.28,49.62 L457.00,48.91 L458.71,48.23 L460.43,47.59 L462.15,46.99 L463.87,46.43 L465.59,45.92 L467.31,45.44 L469.02,45.00 L470.74,44.59 L472.46,44.21 L474.18,43.86 L475.90,43.54 L477.62,43.26 L479.33,43.00 L481.05,42.77 L482.77,42.57 L484.49,42.40 L486.21,42.27 L487.93,42.16 L489.64,42.08 L491.36,42.00 L493.08,41.93 L494.80,41.86 L496.52,41.81 L498.24,41.76 L499.95,41.73 L501.67,41.69 L503.39,41.64" stroke="#56677a" class="cv"/>
<path d="M307.50,130.94 L307.93,129.51 L308.36,128.03 L308.79,126.55 L309.22,125.13 L309.65,123.80 L310.08,122.64 L310.51,121.66 L310.94,120.83 L311.37,120.09 L311.80,119.43 L312.23,118.81 L312.65,118.18 L313.08,117.56 L313.51,116.99 L313.94,116.45 L314.37,115.94 L314.80,115.44 L315.23,114.95 L315.66,114.46 L316.09,114.00 L316.52,113.55 L316.95,113.11 L317.38,112.69 L317.81,112.26 L318.67,111.42 L319.53,110.58 L320.39,109.74 L321.25,108.92 L322.11,108.13 L322.96,107.37 L323.82,106.64 L324.68,105.93 L325.54,105.24 L326.39,104.58 L327.25,103.95 L328.11,103.35 L328.11,103.39 L328.11,103.48 L328.11,103.60 L328.12,103.72 L328.12,103.82 L328.12,103.85 L328.98,103.30 L329.84,102.71 L330.70,102.08 L331.56,101.45 L332.42,100.83 L333.27,100.24 L334.13,99.69 L334.99,99.15 L335.85,98.62 L336.71,98.11 L337.57,97.60 L338.43,97.10 L339.29,96.61 L340.15,96.13 L341.01,95.66 L341.87,95.20 L342.73,94.75 L343.58,94.30 L344.44,93.86 L345.30,93.44 L346.16,93.02 L347.02,92.61 L347.88,92.20 L348.74,91.78 L349.60,91.36 L350.46,90.94 L351.32,90.52 L352.18,90.10 L353.04,89.68 L353.89,89.26 L354.75,88.84 L355.61,88.41 L356.47,87.99 L357.33,87.57 L358.19,87.16 L359.05,86.77 L360.77,86.01 L362.49,85.27 L364.20,84.55 L365.92,83.83 L367.64,83.11 L369.36,82.40 L371.08,81.69 L372.80,80.98 L374.51,80.28 L376.23,79.58 L377.95,78.89 L379.67,78.19 L381.39,77.50 L383.11,76.80 L384.82,76.11 L386.54,75.42 L388.26,74.73 L389.98,74.06 L391.70,73.39 L393.42,72.73 L395.13,72.08 L396.85,71.43 L398.57,70.78 L400.29,70.14 L402.01,69.49 L403.73,68.85 L405.44,68.22 L407.16,67.58 L408.88,66.94 L410.60,66.29 L412.32,65.64 L414.04,65.00 L415.75,64.35 L417.47,63.69 L419.19,63.02 L420.91,62.32 L422.63,61.60 L424.35,60.86 L426.06,60.11 L427.78,59.34 L429.50,58.56 L431.22,57.76 L432.94,56.93 L434.66,56.08 L436.38,55.21 L438.09,54.34 L439.81,53.47 L441.53,52.60 L443.25,51.73 L444.97,50.85 L446.69,49.97 L448.40,49.10 L450.12,48.26 L451.84,47.47 L453.56,46.72 L455.28,46.00 L457.00,45.30 L458.71,44.64 L460.43,44.02 L462.15,43.43 L463.87,42.89 L465.59,42.38 L467.31,41.92 L469.02,41.48 L470.74,41.08 L472.46,40.70 L474.18,40.36 L475.90,40.05 L477.62,39.78 L479.33,39.53 L481.05,39.31 L482.77,39.11 L484.49,38.95 L486.21,38.82 L487.93,38.71 L489.64,38.62 L491.36,38.55 L493.08,38.47 L494.80,38.40 L496.52,38.35 L498.24,38.31 L499.95,38.27 L501.67,38.23 L503.39,38.19" stroke="#46668c" class="cv"/>
<path d="M307.50,129.63 L307.93,128.18 L308.36,126.67 L308.79,125.17 L309.22,123.72 L309.65,122.37 L310.08,121.19 L310.51,120.20 L310.94,119.35 L311.37,118.61 L311.80,117.94 L312.23,117.30 L312.65,116.66 L313.08,116.02 L313.51,115.42 L313.94,114.86 L314.37,114.32 L314.80,113.80 L315.23,113.29 L315.66,112.79 L316.09,112.32 L316.52,111.86 L316.95,111.41 L317.38,110.97 L317.81,110.53 L318.67,109.65 L319.53,108.76 L320.39,107.87 L321.25,107.00 L322.11,106.16 L322.96,105.36 L323.82,104.60 L324.68,103.87 L325.54,103.16 L326.39,102.48 L327.25,101.83 L328.11,101.21 L328.11,101.25 L328.11,101.34 L328.11,101.46 L328.12,101.58 L328.12,101.67 L328.12,101.71 L328.98,101.11 L329.84,100.47 L330.70,99.79 L331.56,99.11 L332.42,98.45 L333.27,97.82 L334.13,97.23 L334.99,96.65 L335.85,96.09 L336.71,95.54 L337.57,95.00 L338.43,94.47 L339.29,93.96 L340.15,93.45 L341.01,92.96 L341.87,92.48 L342.73,92.00 L343.58,91.53 L344.44,91.07 L345.30,90.63 L346.16,90.19 L347.02,89.75 L347.88,89.32 L348.74,88.88 L349.60,88.43 L350.46,87.99 L351.32,87.55 L352.18,87.11 L353.04,86.66 L353.89,86.22 L354.75,85.76 L355.61,85.30 L356.47,84.83 L357.33,84.37 L358.19,83.93 L359.05,83.52 L360.77,82.73 L362.49,81.97 L364.20,81.22 L365.92,80.48 L367.64,79.75 L369.36,79.01 L371.08,78.27 L372.80,77.53 L374.51,76.79 L376.23,76.06 L377.95,75.32 L379.67,74.59 L381.39,73.86 L383.11,73.13 L384.82,72.41 L386.54,71.68 L388.26,70.96 L389.98,70.25 L391.70,69.55 L393.42,68.86 L395.13,68.17 L396.85,67.49 L398.57,66.81 L400.29,66.12 L402.01,65.45 L403.73,64.77 L405.44,64.10 L407.16,63.43 L408.88,62.75 L410.60,62.07 L412.32,61.38 L414.04,60.69 L415.75,60.00 L417.47,59.30 L419.19,58.57 L420.91,57.82 L422.63,57.04 L424.35,56.24 L426.06,55.41 L427.78,54.57 L429.50,53.71 L431.22,52.84 L432.94,51.95 L434.66,51.04 L436.38,50.10 L438.09,49.17 L439.81,48.24 L441.53,47.34 L443.25,46.45 L444.97,45.56 L446.69,44.68 L448.40,43.82 L450.12,42.99 L451.84,42.21 L453.56,41.48 L455.28,40.78 L457.00,40.11 L458.71,39.48 L460.43,38.88 L462.15,38.31 L463.87,37.79 L465.59,37.29 L467.31,36.83 L469.02,36.41 L470.74,36.02 L472.46,35.65 L474.18,35.32 L475.90,35.03 L477.62,34.77 L479.33,34.53 L481.05,34.32 L482.77,34.13 L484.49,33.97 L486.21,33.84 L487.93,33.73 L489.64,33.64 L491.36,33.57 L493.08,33.49 L494.80,33.42 L496.52,33.37 L498.24,33.33 L499.95,33.29 L501.67,33.25 L503.39,33.20" stroke="#5e4638" class="cv"/>
<rect x="298.20" y="19.50" width="215.10" height="124.80" class="box"/>
<line x1="295.00" y1="138.90" x2="298.20" y2="138.90" class="tk"/>
<text x="291.90" y="141.10" class="tl" text-anchor="end">40</text>
<line x1="295.00" y1="124.65" x2="298.20" y2="124.65" class="tk"/>
<text x="291.90" y="126.85" class="tl" text-anchor="end">60</text>
<line x1="295.00" y1="110.40" x2="298.20" y2="110.40" class="tk"/>
<text x="291.90" y="112.60" class="tl" text-anchor="end">80</text>
<line x1="295.00" y1="96.15" x2="298.20" y2="96.15" class="tk"/>
<text x="291.90" y="98.35" class="tl" text-anchor="end">100</text>
<line x1="295.00" y1="81.90" x2="298.20" y2="81.90" class="tk"/>
<text x="291.90" y="84.10" class="tl" text-anchor="end">120</text>
<line x1="295.00" y1="67.65" x2="298.20" y2="67.65" class="tk"/>
<text x="291.90" y="69.85" class="tl" text-anchor="end">140</text>
<line x1="295.00" y1="53.40" x2="298.20" y2="53.40" class="tk"/>
<text x="291.90" y="55.60" class="tl" text-anchor="end">160</text>
<line x1="295.00" y1="39.15" x2="298.20" y2="39.15" class="tk"/>
<text x="291.90" y="41.35" class="tl" text-anchor="end">180</text>
<line x1="295.00" y1="24.90" x2="298.20" y2="24.90" class="tk"/>
<text x="291.90" y="27.10" class="tl" text-anchor="end">200</text>
<line x1="307.50" y1="144.30" x2="307.50" y2="147.70" class="tk"/>
<text x="307.50" y="156.50" class="tl" text-anchor="middle">0</text>
<line x1="317.81" y1="144.30" x2="317.81" y2="147.70" class="tk"/>
<text x="317.81" y="156.50" class="tl" text-anchor="middle">1</text>
<line x1="328.12" y1="144.30" x2="328.12" y2="147.70" class="tk"/>
<text x="328.12" y="156.50" class="tl" text-anchor="middle">2</text>
<line x1="338.43" y1="144.30" x2="338.43" y2="147.70" class="tk"/>
<text x="338.43" y="156.50" class="tl" text-anchor="middle">3</text>
<line x1="348.74" y1="144.30" x2="348.74" y2="147.70" class="tk"/>
<text x="348.74" y="156.50" class="tl" text-anchor="middle">4</text>
<line x1="359.05" y1="144.30" x2="359.05" y2="147.70" class="tk"/>
<text x="359.05" y="156.50" class="tl" text-anchor="middle">5</text>
<line x1="369.36" y1="144.30" x2="369.36" y2="147.70" class="tk"/>
<text x="369.36" y="156.50" class="tl" text-anchor="middle">6</text>
<line x1="379.67" y1="144.30" x2="379.67" y2="147.70" class="tk"/>
<text x="379.67" y="156.50" class="tl" text-anchor="middle">7</text>
<line x1="389.98" y1="144.30" x2="389.98" y2="147.70" class="tk"/>
<text x="389.98" y="156.50" class="tl" text-anchor="middle">8</text>
<line x1="400.29" y1="144.30" x2="400.29" y2="147.70" class="tk"/>
<text x="400.29" y="156.50" class="tl" text-anchor="middle">9</text>
<line x1="410.60" y1="144.30" x2="410.60" y2="147.70" class="tk"/>
<text x="410.60" y="156.50" class="tl" text-anchor="middle">10</text>
<line x1="420.91" y1="144.30" x2="420.91" y2="147.70" class="tk"/>
<text x="420.91" y="156.50" class="tl" text-anchor="middle">11</text>
<line x1="431.22" y1="144.30" x2="431.22" y2="147.70" class="tk"/>
<text x="431.22" y="156.50" class="tl" text-anchor="middle">12</text>
<line x1="441.53" y1="144.30" x2="441.53" y2="147.70" class="tk"/>
<text x="441.53" y="156.50" class="tl" text-anchor="middle">13</text>
<line x1="451.84" y1="144.30" x2="451.84" y2="147.70" class="tk"/>
<text x="451.84" y="156.50" class="tl" text-anchor="middle">14</text>
<line x1="462.15" y1="144.30" x2="462.15" y2="147.70" class="tk"/>
<text x="462.15" y="156.50" class="tl" text-anchor="middle">15</text>
<line x1="472.46" y1="144.30" x2="472.46" y2="147.70" class="tk"/>
<text x="472.46" y="156.50" class="tl" text-anchor="middle">16</text>
<line x1="482.77" y1="144.30" x2="482.77" y2="147.70" class="tk"/>
<text x="482.77" y="156.50" class="tl" text-anchor="middle">17</text>
<line x1="493.08" y1="144.30" x2="493.08" y2="147.70" class="tk"/>
<text x="493.08" y="156.50" class="tl" text-anchor="middle">18</text>
<line x1="503.39" y1="144.30" x2="503.39" y2="147.70" class="tk"/>
<text x="503.39" y="156.50" class="tl" text-anchor="middle">19</text>
<text x="405.75" y="168.60" class="al" text-anchor="middle" textLength="31.5" lengthAdjust="spacingAndGlyphs">Age (years)</text>
<text transform="translate(275.20,82.50) rotate(-90)" class="al" text-anchor="middle" textLength="31.5" lengthAdjust="spacingAndGlyphs">Height (cm)</text>
<text x="144.75" y="193.40" class="tt" text-anchor="middle" textLength="44.7" lengthAdjust="spacingAndGlyphs">Female BMI</text>
<path d="M51.46,296.90 L52.33,296.99 L53.19,297.08 L54.05,297.17 L54.91,297.26 L55.77,297.35 L56.63,297.44 L58.35,297.62 L60.07,297.81 L61.80,298.00 L63.52,298.18 L65.24,298.35 L66.96,298.52 L69.13,298.72 L71.30,298.91 L73.47,299.10 L75.64,299.28 L77.81,299.45 L79.98,299.60 L82.97,299.81 L85.97,300.01 L88.96,300.21 L91.96,300.39 L94.95,300.55 L97.95,300.69 L101.39,300.82 L104.84,300.94 L108.28,301.03 L111.72,301.11 L115.17,301.18 L118.61,301.23 L122.17,301.27 L125.74,301.31 L129.30,301.33 L132.87,301.33 L136.43,301.30 L139.99,301.23 L143.32,301.12 L146.64,300.97 L149.96,300.78 L153.28,300.58 L156.61,300.36 L159.93,300.15 L164.92,299.82 L169.92,299.48 L174.91,299.13 L179.90,298.77 L184.89,298.39 L189.89,297.98 L193.50,297.66 L197.12,297.31 L200.73,296.95 L204.35,296.57 L207.96,296.19 L211.58,295.81 L216.75,295.28 L221.91,294.74 L227.07,294.20 L232.24,293.65 L237.40,293.11 L242.57,292.56" stroke="#48a052" class="cv" stroke-dasharray="2.2,2.2"/>
<path d="M51.46,290.94 L52.33,291.03 L53.19,291.12 L54.05,291.21 L54.91,291.30 L55.77,291.39 L56.63,291.48 L58.35,291.65 L60.07,291.82 L61.80,291.98 L63.52,292.15 L65.24,292.34 L66.96,292.56 L69.13,292.91 L71.30,293.31 L73.47,293.73 L75.64,294.13 L77.81,294.48 L79.98,294.73 L82.97,294.94 L85.97,295.07 L88.96,295.13 L91.96,295.17 L94.95,295.21 L97.95,295.27 L101.39,295.38 L104.84,295.49 L108.28,295.60 L111.72,295.70 L115.17,295.77 L118.61,295.81 L122.17,295.84 L125.74,295.85 L129.30,295.84 L132.87,295.79 L136.43,295.70 L139.99,295.54 L143.32,295.33 L146.64,295.05 L149.96,294.72 L153.28,294.37 L156.61,294.00 L159.93,293.65 L164.92,293.15 L169.92,292.67 L174.91,292.19 L179.90,291.66 L184.89,291.08 L189.89,290.40 L193.50,289.80 L197.12,289.11 L200.73,288.35 L204.35,287.56 L207.96,286.79 L211.58,286.07 L216.75,285.09 L221.91,284.14 L227.07,283.20 L232.24,282.26 L237.40,281.32 L242.57,280.38" stroke="#d88e3e" class="cv" stroke-dasharray="2.2,2.2"/>
<path d="M51.46,286.07 L52.33,286.16 L53.19,286.25 L54.05,286.34 L54.91,286.43 L55.77,286.52 L56.63,286.61 L58.35,286.78 L60.07,286.94 L61.80,287.11 L63.52,287.28 L65.24,287.47 L66.96,287.69 L69.13,288.03 L71.30,288.42 L73.47,288.83 L75.64,289.23 L77.81,289.58 L79.98,289.86 L82.97,290.13 L85.97,290.34 L88.96,290.51 L91.96,290.65 L94.95,290.79 L97.95,290.94 L101.39,291.14 L104.84,291.35 L108.28,291.56 L111.72,291.75 L115.17,291.91 L118.61,292.02 L122.17,292.11 L125.74,292.19 L129.30,292.23 L132.87,292.23 L136.43,292.17 L139.99,292.02 L143.32,291.81 L146.64,291.54 L149.96,291.20 L153.28,290.81 L156.61,290.36 L159.93,289.86 L164.92,289.03 L169.92,288.13 L174.91,287.17 L179.90,286.18 L184.89,285.17 L189.89,284.17 L193.50,283.44 L197.12,282.68 L200.73,281.90 L204.35,281.12 L207.96,280.34 L211.58,279.57 L216.75,278.48 L221.91,277.40 L227.07,276.32 L232.24,275.23 L237.40,274.15 L242.57,273.07" stroke="#3f4c58" class="cv" stroke-dasharray="2.2,2.2"/>
<path d="M51.46,283.90 L52.33,283.99 L53.19,284.09 L54.05,284.19 L54.91,284.29 L55.77,284.37 L56.63,284.44 L58.35,284.55 L60.07,284.64 L61.80,284.73 L63.52,284.81 L65.24,284.89 L66.96,284.98 L69.13,285.11 L71.30,285.24 L73.47,285.37 L75.64,285.51 L77.81,285.65 L79.98,285.80 L82.97,286.01 L85.97,286.24 L88.96,286.47 L91.96,286.70 L94.95,286.93 L97.95,287.15 L101.39,287.40 L104.84,287.67 L108.28,287.92 L111.72,288.16 L115.17,288.36 L118.61,288.50 L122.17,288.61 L125.74,288.70 L129.30,288.75 L132.87,288.74 L136.43,288.67 L139.99,288.50 L143.32,288.26 L146.64,287.94 L149.96,287.54 L153.28,287.09 L156.61,286.60 L159.93,286.07 L164.92,285.25 L169.92,284.41 L174.91,283.52 L179.90,282.56 L184.89,281.53 L189.89,280.38 L193.50,279.44 L197.12,278.37 L200.73,277.22 L204.35,276.02 L207.96,274.81 L211.58,273.61 L216.75,271.93 L221.91,270.22 L227.07,268.50 L232.24,266.77 L237.40,265.04 L242.57,263.32" stroke="#36506e" class="cv" stroke-dasharray="2.2,2.2"/>
<path d="M51.46,271.45 L52.33,271.63 L53.19,271.81 L54.05,271.99 L54.91,272.17 L55.77,272.35 L56.63,272.53 L58.35,272.88 L60.07,273.23 L61.80,273.58 L63.52,273.94 L65.24,274.31 L66.96,274.70 L69.13,275.22 L71.30,275.78 L73.47,276.36 L75.64,276.92 L77.81,277.46 L79.98,277.94 L82.97,278.56 L85.97,279.16 L88.96,279.73 L91.96,280.26 L94.95,280.75 L97.95,281.19 L100.88,281.57 L103.80,281.90 L106.73,282.19 L109.66,282.44 L112.58,282.65 L115.51,282.82 L119.59,283.05 L123.67,283.30 L127.75,283.51 L131.83,283.62 L135.91,283.59 L139.99,283.36 L143.32,282.97 L146.64,282.40 L149.96,281.68 L153.28,280.86 L156.61,279.96 L159.93,279.03 L164.92,277.59 L169.92,276.09 L174.91,274.51 L179.90,272.86 L184.89,271.11 L189.89,269.28 L193.50,267.82 L197.12,266.22 L200.73,264.53 L204.35,262.81 L207.96,261.12 L211.58,259.53 L216.75,257.39 L221.91,255.29 L227.07,253.23 L232.24,251.19 L237.40,249.14 L242.57,247.08" stroke="#3e3129" class="cv" stroke-dasharray="2.2,2.2"/>
<path d="M46.30,303.94 L46.44,303.12 L46.58,302.29 L46.71,301.46 L46.85,300.64 L46.99,299.84 L47.13,299.06 L47.33,297.89 L47.54,296.69 L47.75,295.50 L47.95,294.39 L48.16,293.39 L48.37,292.56 L48.62,291.74 L48.88,291.06 L49.14,290.50 L49.40,290.04 L49.66,289.65 L49.92,289.32 L50.31,288.85 L50.71,288.46 L51.10,288.13 L51.50,287.89 L51.90,287.74 L52.29,287.69 L52.84,287.77 L53.39,287.99 L53.94,288.29 L54.50,288.64 L55.05,289.00 L55.60,289.32 L56.29,289.68 L56.97,290.07 L57.66,290.46 L58.35,290.84 L59.04,291.19 L59.73,291.48 L60.92,291.91 L62.10,292.29 L63.29,292.64 L64.48,292.97 L65.67,293.30 L66.86,293.65 L66.96,292.84 L67.99,292.98 L69.03,293.12 L70.06,293.27 L71.09,293.41 L72.12,293.54 L73.16,293.65 L74.47,293.77 L75.77,293.87 L77.08,293.97 L78.39,294.05 L79.70,294.13 L81.01,294.19 L83.83,294.31 L86.66,294.42 L89.48,294.52 L92.30,294.61 L95.13,294.68 L97.95,294.73 L101.39,294.78 L104.84,294.83 L108.28,294.87 L111.72,294.87 L115.17,294.83 L118.61,294.73 L122.17,294.57 L125.74,294.37 L129.30,294.12 L132.87,293.83 L136.43,293.49 L139.99,293.11 L141.59,292.89 L143.20,292.61 L144.80,292.28 L146.40,291.93 L148.00,291.57 L149.60,291.21 L151.32,290.84 L153.04,290.46 L154.76,290.07 L156.49,289.66 L158.21,289.23 L159.93,288.77 L161.65,288.28 L163.37,287.75 L165.09,287.20 L166.82,286.64 L168.54,286.08 L170.26,285.53 L171.98,284.98 L173.70,284.42 L175.43,283.87 L177.15,283.32 L178.87,282.79 L180.59,282.28 L182.31,281.79 L184.03,281.31 L185.75,280.85 L187.48,280.41 L189.20,279.98 L190.92,279.57 L192.64,279.17 L194.36,278.80 L196.08,278.43 L197.81,278.08 L199.53,277.74 L201.25,277.40 L202.97,277.06 L204.69,276.73 L206.42,276.40 L208.14,276.09 L209.86,275.79 L211.58,275.51 L213.30,275.25 L215.02,275.01 L216.75,274.78 L218.47,274.56 L220.19,274.36 L221.91,274.15 L223.63,273.95 L225.35,273.75 L227.07,273.56 L228.80,273.38 L230.52,273.22 L232.24,273.07 L233.96,272.95 L235.68,272.85 L237.40,272.77 L239.13,272.69 L240.85,272.61 L242.57,272.53" stroke="#5cb565" class="cv"/>
<path d="M46.30,298.52 L46.44,297.61 L46.58,296.70 L46.71,295.79 L46.85,294.88 L46.99,293.98 L47.13,293.11 L47.33,291.76 L47.54,290.36 L47.75,288.97 L47.95,287.66 L48.16,286.49 L48.37,285.53 L48.62,284.57 L48.88,283.78 L49.14,283.13 L49.40,282.59 L49.66,282.14 L49.92,281.73 L50.26,281.26 L50.60,280.85 L50.95,280.54 L51.29,280.30 L51.64,280.16 L51.98,280.11 L52.58,280.18 L53.19,280.38 L53.79,280.67 L54.39,281.01 L54.99,281.38 L55.60,281.73 L56.29,282.16 L56.97,282.65 L57.66,283.15 L58.35,283.65 L59.04,284.09 L59.73,284.44 L60.92,284.91 L62.10,285.30 L63.29,285.64 L64.48,285.95 L65.67,286.27 L66.86,286.61 L66.96,285.80 L67.99,286.03 L69.03,286.28 L70.06,286.52 L71.09,286.76 L72.12,286.97 L73.16,287.15 L74.47,287.34 L75.77,287.50 L77.08,287.64 L78.39,287.76 L79.70,287.87 L81.01,287.96 L83.83,288.15 L86.66,288.33 L89.48,288.49 L92.30,288.63 L95.13,288.73 L97.95,288.77 L101.39,288.78 L104.84,288.76 L108.28,288.70 L111.72,288.60 L115.17,288.45 L118.61,288.23 L122.17,287.95 L125.74,287.63 L129.30,287.25 L132.87,286.81 L136.43,286.33 L139.99,285.80 L141.59,285.50 L143.20,285.14 L144.80,284.73 L146.40,284.28 L148.00,283.82 L149.60,283.36 L151.32,282.86 L153.04,282.34 L154.76,281.81 L156.49,281.26 L158.21,280.69 L159.93,280.11 L161.65,279.50 L163.37,278.87 L165.09,278.21 L166.82,277.56 L168.54,276.93 L170.26,276.32 L171.98,275.75 L173.70,275.20 L175.43,274.66 L177.15,274.13 L178.87,273.61 L180.59,273.07 L182.31,272.52 L184.03,271.97 L185.75,271.41 L187.48,270.86 L189.20,270.33 L190.92,269.82 L192.64,269.34 L194.36,268.87 L196.08,268.42 L197.81,267.98 L199.53,267.54 L201.25,267.11 L202.97,266.68 L204.69,266.25 L206.42,265.83 L208.14,265.42 L209.86,265.03 L211.58,264.68 L213.30,264.35 L215.02,264.06 L216.75,263.78 L218.47,263.52 L220.19,263.28 L221.91,263.05 L223.63,262.83 L225.35,262.63 L227.07,262.44 L228.80,262.27 L230.52,262.11 L232.24,261.97 L233.96,261.85 L235.68,261.75 L237.40,261.67 L239.13,261.59 L240.85,261.51 L242.57,261.43" stroke="#eba24a" class="cv"/>
<path d="M46.30,294.73 L46.44,293.73 L46.58,292.72 L46.71,291.71 L46.85,290.71 L46.99,289.73 L47.13,288.77 L47.33,287.32 L47.54,285.81 L47.75,284.32 L47.95,282.92 L48.16,281.67 L48.37,280.65 L48.62,279.66 L48.88,278.86 L49.14,278.22 L49.40,277.70 L49.66,277.26 L49.92,276.86 L50.26,276.38 L50.60,275.98 L50.95,275.66 L51.29,275.43 L51.64,275.29 L51.98,275.24 L52.58,275.31 L53.19,275.51 L53.79,275.80 L54.39,276.14 L54.99,276.51 L55.60,276.86 L56.29,277.29 L56.97,277.77 L57.66,278.27 L58.35,278.76 L59.04,279.20 L59.73,279.57 L60.92,280.07 L62.10,280.50 L63.29,280.89 L64.48,281.25 L65.67,281.62 L66.86,282.01 L66.96,281.19 L67.99,281.43 L69.03,281.67 L70.06,281.92 L71.09,282.15 L72.12,282.37 L73.16,282.55 L74.47,282.73 L75.77,282.89 L77.08,283.03 L78.39,283.15 L79.70,283.26 L81.01,283.36 L83.83,283.59 L86.66,283.83 L89.48,284.06 L92.30,284.26 L95.13,284.39 L97.95,284.44 L101.39,284.41 L104.84,284.32 L108.28,284.17 L111.72,283.96 L115.17,283.69 L118.61,283.36 L122.17,282.96 L125.74,282.51 L129.30,282.00 L132.87,281.43 L136.43,280.80 L139.99,280.11 L141.59,279.74 L143.20,279.28 L144.80,278.77 L146.40,278.22 L148.00,277.67 L149.60,277.13 L151.32,276.57 L153.04,276.00 L154.76,275.42 L156.49,274.84 L158.21,274.23 L159.93,273.61 L161.65,272.97 L163.37,272.30 L165.09,271.62 L166.82,270.92 L168.54,270.23 L170.26,269.55 L171.98,268.87 L173.70,268.20 L175.43,267.52 L177.15,266.84 L178.87,266.17 L180.59,265.49 L182.31,264.81 L184.03,264.12 L185.75,263.43 L187.48,262.74 L189.20,262.07 L190.92,261.43 L192.64,260.80 L194.36,260.18 L196.08,259.58 L197.81,259.00 L199.53,258.44 L201.25,257.91 L202.97,257.40 L204.69,256.93 L206.42,256.47 L208.14,256.03 L209.86,255.61 L211.58,255.20 L213.30,254.80 L215.02,254.41 L216.75,254.03 L218.47,253.68 L220.19,253.34 L221.91,253.04 L223.63,252.76 L225.35,252.50 L227.07,252.27 L228.80,252.06 L230.52,251.87 L232.24,251.68 L233.96,251.51 L235.68,251.37 L237.40,251.24 L239.13,251.12 L240.85,251.00 L242.57,250.87" stroke="#56677a" class="cv"/>
<path d="M46.30,290.94 L46.44,289.75 L46.58,288.54 L46.71,287.33 L46.85,286.13 L46.99,284.99 L47.13,283.90 L47.33,282.30 L47.54,280.69 L47.75,279.11 L47.95,277.64 L48.16,276.33 L48.37,275.24 L48.62,274.13 L48.88,273.21 L49.14,272.46 L49.40,271.83 L49.66,271.33 L49.92,270.90 L50.31,270.38 L50.71,269.97 L51.10,269.68 L51.50,269.49 L51.90,269.39 L52.29,269.39 L52.84,269.52 L53.39,269.79 L53.94,270.16 L54.50,270.59 L55.05,271.03 L55.60,271.45 L56.29,271.97 L56.97,272.55 L57.66,273.14 L58.35,273.72 L59.04,274.25 L59.73,274.70 L60.92,275.34 L62.10,275.91 L63.29,276.43 L64.48,276.93 L65.67,277.42 L66.86,277.94 L66.96,277.13 L67.99,277.27 L69.03,277.42 L70.06,277.56 L71.09,277.71 L72.12,277.83 L73.16,277.94 L74.47,278.06 L75.77,278.17 L77.08,278.27 L78.39,278.35 L79.70,278.42 L81.01,278.49 L83.83,278.63 L86.66,278.79 L89.48,278.94 L92.30,279.05 L95.13,279.09 L97.95,279.03 L101.39,278.84 L104.84,278.59 L108.28,278.26 L111.72,277.87 L115.17,277.40 L118.61,276.86 L122.17,276.22 L125.74,275.48 L129.30,274.68 L132.87,273.82 L136.43,272.91 L139.99,271.99 L141.59,271.54 L143.20,271.04 L144.80,270.50 L146.40,269.94 L148.00,269.34 L149.60,268.74 L151.32,268.07 L153.04,267.36 L154.76,266.64 L156.49,265.90 L158.21,265.15 L159.93,264.41 L161.65,263.66 L163.37,262.89 L165.09,262.12 L166.82,261.35 L168.54,260.57 L170.26,259.80 L171.98,259.04 L173.70,258.27 L175.43,257.50 L177.15,256.74 L178.87,255.97 L180.59,255.20 L182.31,254.43 L184.03,253.65 L185.75,252.87 L187.48,252.09 L189.20,251.33 L190.92,250.60 L192.64,249.88 L194.36,249.17 L196.08,248.48 L197.81,247.81 L199.53,247.16 L201.25,246.54 L202.97,245.94 L204.69,245.35 L206.42,244.79 L208.14,244.26 L209.86,243.76 L211.58,243.29 L213.30,242.86 L215.02,242.47 L216.75,242.10 L218.47,241.76 L220.19,241.44 L221.91,241.12 L223.63,240.81 L225.35,240.52 L227.07,240.24 L228.80,239.98 L230.52,239.73 L232.24,239.50 L233.96,239.29 L235.68,239.10 L237.40,238.92 L239.13,238.76 L240.85,238.59 L242.57,238.41" stroke="#46668c" class="cv"/>
<path d="M46.30,284.44 L46.44,282.97 L46.58,281.46 L46.71,279.95 L46.85,278.47 L46.99,277.07 L47.13,275.78 L47.33,273.92 L47.54,272.08 L47.75,270.31 L47.95,268.67 L48.16,267.22 L48.37,266.03 L48.62,264.86 L48.88,263.94 L49.14,263.21 L49.40,262.63 L49.66,262.14 L49.92,261.70 L50.23,261.23 L50.54,260.87 L50.85,260.61 L51.16,260.43 L51.46,260.35 L51.77,260.35 L52.24,260.48 L52.70,260.73 L53.17,261.07 L53.63,261.47 L54.10,261.87 L54.56,262.24 L55.25,262.77 L55.94,263.32 L56.63,263.88 L57.32,264.43 L58.01,264.98 L58.70,265.49 L59.38,265.98 L60.07,266.46 L60.76,266.92 L61.45,267.37 L62.14,267.80 L62.83,268.20 L63.50,268.56 L64.17,268.88 L64.84,269.19 L65.51,269.49 L66.19,269.79 L66.86,270.09 L66.96,269.01 L67.99,269.15 L69.03,269.30 L70.06,269.44 L71.09,269.58 L72.12,269.71 L73.16,269.82 L74.47,269.94 L75.77,270.05 L77.08,270.15 L78.39,270.23 L79.70,270.30 L81.01,270.36 L82.97,270.47 L84.93,270.59 L86.90,270.71 L88.86,270.77 L90.82,270.76 L92.78,270.63 L95.37,270.33 L97.95,269.92 L100.53,269.44 L103.11,268.90 L105.70,268.29 L108.28,267.66 L110.86,266.96 L113.44,266.20 L116.03,265.39 L118.61,264.54 L121.19,263.66 L123.77,262.78 L126.48,261.86 L129.18,260.92 L131.88,259.96 L134.59,258.97 L137.29,257.93 L139.99,256.83 L141.59,256.12 L143.20,255.35 L144.80,254.54 L146.40,253.69 L148.00,252.82 L149.60,251.95 L151.32,251.00 L153.04,250.02 L154.76,249.02 L156.49,248.01 L158.21,247.00 L159.93,246.00 L161.65,245.00 L163.37,244.01 L165.09,243.02 L166.82,242.02 L168.54,241.03 L170.26,240.04 L171.98,239.04 L173.70,238.03 L175.43,237.03 L177.15,236.03 L178.87,235.04 L180.59,234.08 L182.31,233.14 L184.03,232.20 L185.75,231.27 L187.48,230.37 L189.20,229.50 L190.92,228.67 L192.64,227.87 L194.36,227.10 L196.08,226.37 L197.81,225.66 L199.53,224.98 L201.25,224.34 L202.97,223.73 L204.69,223.15 L206.42,222.61 L208.14,222.09 L209.86,221.58 L211.58,221.09 L213.30,220.59 L215.02,220.09 L216.75,219.61 L218.47,219.16 L220.19,218.75 L221.91,218.38 L223.63,218.07 L225.35,217.81 L227.07,217.58 L228.80,217.39 L230.52,217.20 L232.24,217.03 L233.96,216.86 L235.68,216.71 L237.40,216.59 L239.13,216.46 L240.85,216.34 L242.57,216.21" stroke="#5e4638" class="cv"/>
<rect x="37.10" y="198.70" width="215.30" height="124.90" class="box"/>
<line x1="33.90" y1="312.60" x2="37.10" y2="312.60" class="tk"/>
<text x="30.80" y="314.80" class="tl" text-anchor="end">10</text>
<line x1="33.90" y1="301.77" x2="37.10" y2="301.77" class="tk"/>
<text x="30.80" y="303.97" class="tl" text-anchor="end">12</text>
<line x1="33.90" y1="290.94" x2="37.10" y2="290.94" class="tk"/>
<text x="30.80" y="293.14" class="tl" text-anchor="end">14</text>
<line x1="33.90" y1="280.11" x2="37.10" y2="280.11" class="tk"/>
<text x="30.80" y="282.31" class="tl" text-anchor="end">16</text>
<line x1="33.90" y1="269.28" x2="37.10" y2="269.28" class="tk"/>
<text x="30.80" y="271.48" class="tl" text-anchor="end">18</text>
<line x1="33.90" y1="258.45" x2="37.10" y2="258.45" class="tk"/>
<text x="30.80" y="260.65" class="tl" text-anchor="end">20</text>
<line x1="33.90" y1="247.62" x2="37.10" y2="247.62" class="tk"/>
<text x="30.80" y="249.82" class="tl" text-anchor="end">22</text>
<line x1="33.90" y1="236.79" x2="37.10" y2="236.79" class="tk"/>
<text x="30.80" y="238.99" class="tl" text-anchor="end">24</text>
<line x1="33.90" y1="225.96" x2="37.10" y2="225.96" class="tk"/>
<text x="30.80" y="228.16" class="tl" text-anchor="end">26</text>
<line x1="33.90" y1="215.13" x2="37.10" y2="215.13" class="tk"/>
<text x="30.80" y="217.33" class="tl" text-anchor="end">28</text>
<line x1="33.90" y1="204.30" x2="37.10" y2="204.30" class="tk"/>
<text x="30.80" y="206.50" class="tl" text-anchor="end">30</text>
<line x1="46.30" y1="323.60" x2="46.30" y2="327.00" class="tk"/>
<text x="46.30" y="335.80" class="tl" text-anchor="middle">0</text>
<line x1="56.63" y1="323.60" x2="56.63" y2="327.00" class="tk"/>
<text x="56.63" y="335.80" class="tl" text-anchor="middle">1</text>
<line x1="66.96" y1="323.60" x2="66.96" y2="327.00" class="tk"/>
<text x="66.96" y="335.80" class="tl" text-anchor="middle">2</text>
<line x1="77.29" y1="323.60" x2="77.29" y2="327.00" class="tk"/>
<text x="77.29" y="335.80" class="tl" text-anchor="middle">3</text>
<line x1="87.62" y1="323.60" x2="87.62" y2="327.00" class="tk"/>
<text x="87.62" y="335.80" class="tl" text-anchor="middle">4</text>
<line x1="97.95" y1="323.60" x2="97.95" y2="327.00" class="tk"/>
<text x="97.95" y="335.80" class="tl" text-anchor="middle">5</text>
<line x1="108.28" y1="323.60" x2="108.28" y2="327.00" class="tk"/>
<text x="108.28" y="335.80" class="tl" text-anchor="middle">6</text>
<line x1="118.61" y1="323.60" x2="118.61" y2="327.00" class="tk"/>
<text x="118.61" y="335.80" class="tl" text-anchor="middle">7</text>
<line x1="128.94" y1="323.60" x2="128.94" y2="327.00" class="tk"/>
<text x="128.94" y="335.80" class="tl" text-anchor="middle">8</text>
<line x1="139.27" y1="323.60" x2="139.27" y2="327.00" class="tk"/>
<text x="139.27" y="335.80" class="tl" text-anchor="middle">9</text>
<line x1="149.60" y1="323.60" x2="149.60" y2="327.00" class="tk"/>
<text x="149.60" y="335.80" class="tl" text-anchor="middle">10</text>
<line x1="159.93" y1="323.60" x2="159.93" y2="327.00" class="tk"/>
<text x="159.93" y="335.80" class="tl" text-anchor="middle">11</text>
<line x1="170.26" y1="323.60" x2="170.26" y2="327.00" class="tk"/>
<text x="170.26" y="335.80" class="tl" text-anchor="middle">12</text>
<line x1="180.59" y1="323.60" x2="180.59" y2="327.00" class="tk"/>
<text x="180.59" y="335.80" class="tl" text-anchor="middle">13</text>
<line x1="190.92" y1="323.60" x2="190.92" y2="327.00" class="tk"/>
<text x="190.92" y="335.80" class="tl" text-anchor="middle">14</text>
<line x1="201.25" y1="323.60" x2="201.25" y2="327.00" class="tk"/>
<text x="201.25" y="335.80" class="tl" text-anchor="middle">15</text>
<line x1="211.58" y1="323.60" x2="211.58" y2="327.00" class="tk"/>
<text x="211.58" y="335.80" class="tl" text-anchor="middle">16</text>
<line x1="221.91" y1="323.60" x2="221.91" y2="327.00" class="tk"/>
<text x="221.91" y="335.80" class="tl" text-anchor="middle">17</text>
<line x1="232.24" y1="323.60" x2="232.24" y2="327.00" class="tk"/>
<text x="232.24" y="335.80" class="tl" text-anchor="middle">18</text>
<line x1="242.57" y1="323.60" x2="242.57" y2="327.00" class="tk"/>
<text x="242.57" y="335.80" class="tl" text-anchor="middle">19</text>
<text x="144.75" y="347.90" class="al" text-anchor="middle" textLength="31.5" lengthAdjust="spacingAndGlyphs">Age (years)</text>
<text transform="translate(17.20,261.15) rotate(-90)" class="al" text-anchor="middle" textLength="33.4" lengthAdjust="spacingAndGlyphs">BMI (kg/m<tspan dy="-2.6" font-size="4.8">2</tspan><tspan dy="2.6">)</tspan></text>
<text x="405.60" y="193.50" class="tt" text-anchor="middle" textLength="35.3" lengthAdjust="spacingAndGlyphs">Male BMI</text>
<path d="M313.27,292.31 L314.03,292.45 L314.79,292.58 L315.54,292.71 L316.30,292.84 L317.05,292.98 L317.81,293.12 L319.53,293.48 L321.25,293.84 L322.96,294.21 L324.68,294.58 L326.40,294.94 L328.12,295.29 L330.10,295.69 L332.07,296.10 L334.05,296.50 L336.02,296.88 L338.00,297.20 L339.98,297.45 L343.16,297.74 L346.33,297.96 L349.51,298.13 L352.69,298.27 L355.87,298.39 L359.05,298.53 L362.49,298.70 L365.92,298.86 L369.36,299.01 L372.80,299.15 L376.23,299.26 L379.67,299.35 L383.06,299.40 L386.44,299.43 L389.83,299.45 L393.21,299.43 L396.60,299.40 L399.98,299.35 L403.47,299.27 L406.96,299.16 L410.45,299.04 L413.93,298.90 L417.42,298.73 L420.91,298.53 L427.42,298.16 L433.93,297.80 L440.45,297.41 L446.96,296.97 L453.47,296.45 L459.98,295.83 L463.78,295.37 L467.58,294.80 L471.38,294.15 L475.17,293.46 L478.97,292.74 L482.77,292.04 L486.21,291.40 L489.64,290.74 L493.08,290.05 L496.52,289.36 L499.95,288.67 L503.39,287.98" stroke="#48a052" class="cv" stroke-dasharray="2.2,2.2"/>
<path d="M313.27,279.60 L314.03,279.97 L314.79,280.35 L315.54,280.72 L316.30,281.09 L317.05,281.44 L317.81,281.76 L319.53,282.45 L321.25,283.11 L322.96,283.76 L324.68,284.39 L326.40,284.99 L328.12,285.55 L330.10,286.18 L332.07,286.80 L334.05,287.38 L336.02,287.93 L338.00,288.40 L339.98,288.80 L343.16,289.30 L346.33,289.72 L349.51,290.07 L352.69,290.38 L355.87,290.67 L359.05,290.96 L362.49,291.28 L365.92,291.57 L369.36,291.85 L372.80,292.11 L376.23,292.35 L379.67,292.58 L383.06,292.82 L386.44,293.06 L389.83,293.29 L393.21,293.48 L396.60,293.62 L399.98,293.67 L403.47,293.62 L406.96,293.50 L410.45,293.32 L413.93,293.10 L417.42,292.85 L420.91,292.58 L427.42,292.08 L433.93,291.56 L440.45,291.01 L446.96,290.41 L453.47,289.77 L459.98,289.07 L463.78,288.59 L467.58,288.03 L471.38,287.43 L475.17,286.80 L478.97,286.16 L482.77,285.55 L486.21,285.01 L489.64,284.47 L493.08,283.93 L496.52,283.39 L499.95,282.85 L503.39,282.30" stroke="#d88e3e" class="cv" stroke-dasharray="2.2,2.2"/>
<path d="M313.27,276.89 L314.03,277.16 L314.79,277.43 L315.54,277.70 L316.30,277.97 L317.05,278.24 L317.81,278.52 L319.53,279.15 L321.25,279.79 L322.96,280.44 L324.68,281.08 L326.40,281.70 L328.12,282.30 L330.10,283.00 L332.07,283.72 L334.05,284.42 L336.02,285.07 L338.00,285.64 L339.98,286.09 L343.16,286.63 L346.33,287.06 L349.51,287.40 L352.69,287.70 L355.87,287.97 L359.05,288.25 L362.49,288.58 L365.92,288.89 L369.36,289.18 L372.80,289.44 L376.23,289.68 L379.67,289.88 L383.06,290.05 L386.44,290.22 L389.83,290.35 L393.21,290.44 L396.60,290.47 L399.98,290.42 L403.47,290.28 L406.96,290.07 L410.45,289.80 L413.93,289.48 L417.42,289.14 L420.91,288.80 L427.42,288.17 L433.93,287.56 L440.45,286.92 L446.96,286.21 L453.47,285.41 L459.98,284.47 L463.78,283.78 L467.58,282.94 L471.38,282.01 L475.17,281.02 L478.97,280.02 L482.77,279.06 L486.21,278.22 L489.64,277.36 L493.08,276.50 L496.52,275.64 L499.95,274.78 L503.39,273.92" stroke="#3f4c58" class="cv" stroke-dasharray="2.2,2.2"/>
<path d="M313.27,273.65 L314.03,273.92 L314.79,274.19 L315.54,274.46 L316.30,274.73 L317.05,275.00 L317.81,275.27 L319.53,275.91 L321.25,276.57 L322.96,277.23 L324.68,277.87 L326.40,278.49 L328.12,279.06 L330.10,279.68 L332.07,280.29 L334.05,280.87 L336.02,281.40 L338.00,281.89 L339.98,282.30 L343.16,282.89 L346.33,283.41 L349.51,283.89 L352.69,284.31 L355.87,284.68 L359.05,285.01 L362.49,285.30 L365.92,285.53 L369.36,285.71 L372.80,285.86 L376.23,285.98 L379.67,286.09 L383.06,286.21 L386.44,286.32 L389.83,286.41 L393.21,286.46 L396.60,286.45 L399.98,286.36 L403.47,286.18 L406.96,285.92 L410.45,285.59 L413.93,285.23 L417.42,284.85 L420.91,284.47 L427.42,283.80 L433.93,283.16 L440.45,282.49 L446.96,281.76 L453.47,280.90 L459.98,279.87 L463.78,279.09 L467.58,278.13 L471.38,277.04 L475.17,275.89 L478.97,274.74 L482.77,273.65 L486.21,272.70 L489.64,271.76 L493.08,270.81 L496.52,269.86 L499.95,268.91 L503.39,267.97" stroke="#36506e" class="cv" stroke-dasharray="2.2,2.2"/>
<path d="M313.27,263.64 L314.03,264.05 L314.79,264.48 L315.54,264.90 L316.30,265.32 L317.05,265.71 L317.81,266.07 L319.53,266.84 L321.25,267.59 L322.96,268.32 L324.68,269.03 L326.40,269.72 L328.12,270.40 L330.10,271.19 L332.07,271.98 L334.05,272.76 L336.02,273.49 L338.00,274.16 L339.98,274.73 L343.16,275.52 L346.33,276.23 L349.51,276.88 L352.69,277.46 L355.87,278.01 L359.05,278.52 L361.63,278.90 L364.20,279.24 L366.78,279.54 L369.36,279.79 L371.94,279.99 L374.51,280.14 L378.76,280.34 L383.00,280.52 L387.25,280.65 L391.49,280.69 L395.74,280.62 L399.98,280.41 L403.47,280.06 L406.96,279.53 L410.45,278.89 L413.93,278.20 L417.42,277.51 L420.91,276.89 L426.58,276.03 L432.25,275.23 L437.92,274.43 L443.59,273.58 L449.26,272.62 L454.93,271.48 L458.71,270.52 L462.49,269.36 L466.27,268.09 L470.05,266.79 L473.83,265.55 L477.62,264.45 L481.91,263.38 L486.21,262.40 L490.50,261.48 L494.80,260.58 L499.09,259.69 L503.39,258.77" stroke="#3e3129" class="cv" stroke-dasharray="2.2,2.2"/>
<path d="M307.50,303.40 L307.64,302.50 L307.77,301.58 L307.91,300.67 L308.05,299.76 L308.19,298.87 L308.32,297.99 L308.53,296.65 L308.74,295.27 L308.94,293.89 L309.15,292.59 L309.36,291.41 L309.56,290.42 L309.82,289.40 L310.08,288.54 L310.34,287.80 L310.59,287.16 L310.85,286.60 L311.11,286.09 L311.37,285.63 L311.62,285.24 L311.88,284.93 L312.14,284.70 L312.40,284.54 L312.65,284.47 L313.17,284.47 L313.69,284.59 L314.20,284.79 L314.72,285.04 L315.23,285.30 L315.75,285.55 L316.44,285.88 L317.12,286.25 L317.81,286.63 L318.50,287.01 L319.18,287.38 L319.87,287.71 L320.56,288.02 L321.25,288.29 L321.93,288.56 L322.62,288.81 L323.31,289.07 L324.00,289.34 L324.67,289.61 L325.34,289.87 L326.01,290.15 L326.68,290.42 L327.35,290.69 L328.02,290.96 L328.12,290.15 L329.15,290.43 L330.18,290.72 L331.21,291.00 L332.24,291.28 L333.27,291.54 L334.31,291.77 L335.25,291.96 L336.20,292.13 L337.14,292.28 L338.09,292.40 L339.03,292.51 L339.98,292.58 L343.16,292.78 L346.33,292.96 L349.51,293.11 L352.69,293.24 L355.87,293.33 L359.05,293.39 L362.49,293.43 L365.92,293.45 L369.36,293.43 L372.80,293.38 L376.23,293.28 L379.67,293.12 L383.06,292.93 L386.44,292.69 L389.83,292.41 L393.21,292.08 L396.60,291.69 L399.98,291.23 L403.47,290.69 L406.96,290.08 L410.45,289.42 L413.93,288.71 L417.42,287.96 L420.91,287.17 L424.35,286.35 L427.78,285.45 L431.22,284.52 L434.66,283.57 L438.09,282.64 L441.53,281.76 L443.76,281.23 L446.00,280.74 L448.23,280.26 L450.47,279.78 L452.70,279.30 L454.93,278.79 L459.57,277.67 L464.21,276.52 L468.85,275.36 L473.49,274.21 L478.13,273.09 L482.77,272.03 L486.21,271.29 L489.64,270.59 L493.08,269.93 L496.52,269.28 L499.95,268.63 L503.39,267.97" stroke="#5cb565" class="cv"/>
<path d="M307.50,297.99 L307.64,296.99 L307.77,295.99 L307.91,294.98 L308.05,293.98 L308.19,293.00 L308.32,292.04 L308.53,290.59 L308.74,289.08 L308.94,287.59 L309.15,286.19 L309.36,284.94 L309.56,283.93 L309.82,282.95 L310.08,282.18 L310.34,281.56 L310.59,281.05 L310.85,280.60 L311.11,280.14 L311.37,279.68 L311.62,279.24 L311.88,278.86 L312.14,278.55 L312.40,278.34 L312.65,278.25 L313.17,278.27 L313.69,278.43 L314.20,278.69 L314.72,279.00 L315.23,279.32 L315.75,279.60 L316.44,279.94 L317.12,280.30 L317.81,280.66 L318.50,281.03 L319.18,281.40 L319.87,281.76 L320.56,282.13 L321.25,282.50 L321.93,282.88 L322.62,283.24 L323.31,283.59 L324.00,283.93 L324.67,284.23 L325.34,284.50 L326.01,284.77 L326.68,285.03 L327.35,285.29 L328.02,285.55 L328.12,284.47 L329.15,284.75 L330.18,285.04 L331.21,285.32 L332.24,285.60 L333.27,285.86 L334.31,286.09 L335.25,286.28 L336.20,286.45 L337.14,286.60 L338.09,286.72 L339.03,286.83 L339.98,286.90 L343.16,287.10 L346.33,287.29 L349.51,287.45 L352.69,287.58 L355.87,287.67 L359.05,287.71 L362.49,287.72 L365.92,287.70 L369.36,287.63 L372.80,287.53 L376.23,287.37 L379.67,287.17 L383.06,286.94 L386.44,286.67 L389.83,286.36 L393.21,285.98 L396.60,285.54 L399.98,285.01 L403.47,284.37 L406.96,283.64 L410.45,282.84 L413.93,281.99 L417.42,281.08 L420.91,280.14 L424.35,279.15 L427.78,278.10 L431.22,276.99 L434.66,275.86 L438.09,274.74 L441.53,273.65 L443.76,272.96 L446.00,272.27 L448.23,271.58 L450.47,270.91 L452.70,270.24 L454.93,269.59 L459.57,268.26 L464.21,266.93 L468.85,265.62 L473.49,264.31 L478.13,263.02 L482.77,261.75 L486.21,260.82 L489.64,259.91 L493.08,259.01 L496.52,258.12 L499.95,257.23 L503.39,256.34" stroke="#eba24a" class="cv"/>
<path d="M307.50,294.21 L307.64,293.02 L307.77,291.81 L307.91,290.59 L308.05,289.41 L308.19,288.26 L308.32,287.17 L308.53,285.57 L308.74,283.94 L308.94,282.36 L309.15,280.88 L309.36,279.58 L309.56,278.52 L309.82,277.50 L310.08,276.71 L310.34,276.10 L310.59,275.60 L310.85,275.16 L311.11,274.73 L311.37,274.30 L311.62,273.92 L311.88,273.60 L312.14,273.35 L312.40,273.19 L312.65,273.11 L313.17,273.11 L313.69,273.21 L314.20,273.40 L314.72,273.64 L315.23,273.91 L315.75,274.19 L316.44,274.58 L317.12,275.03 L317.81,275.51 L318.50,275.99 L319.18,276.46 L319.87,276.89 L320.56,277.29 L321.25,277.65 L321.93,278.01 L322.62,278.35 L323.31,278.70 L324.00,279.06 L324.67,279.42 L325.34,279.78 L326.01,280.14 L326.68,280.50 L327.35,280.86 L328.02,281.22 L328.12,279.60 L329.15,279.92 L330.18,280.24 L331.21,280.57 L332.24,280.89 L333.27,281.20 L334.31,281.49 L335.25,281.76 L336.20,282.03 L337.14,282.29 L338.09,282.53 L339.03,282.72 L339.98,282.85 L343.16,283.14 L346.33,283.39 L349.51,283.60 L352.69,283.77 L355.87,283.88 L359.05,283.93 L362.49,283.92 L365.92,283.87 L369.36,283.76 L372.80,283.60 L376.23,283.38 L379.67,283.12 L383.06,282.81 L386.44,282.46 L389.83,282.06 L393.21,281.59 L396.60,281.05 L399.98,280.41 L403.47,279.66 L406.96,278.82 L410.45,277.91 L413.93,276.92 L417.42,275.86 L420.91,274.73 L424.35,273.51 L427.78,272.18 L431.22,270.78 L434.66,269.35 L438.09,267.95 L441.53,266.62 L443.76,265.80 L446.00,265.02 L448.23,264.26 L450.47,263.51 L452.70,262.77 L454.93,262.02 L459.57,260.43 L464.21,258.83 L468.85,257.24 L473.49,255.66 L478.13,254.09 L482.77,252.55 L486.21,251.43 L489.64,250.34 L493.08,249.27 L496.52,248.20 L499.95,247.13 L503.39,246.06" stroke="#56677a" class="cv"/>
<path d="M307.50,289.88 L307.64,288.50 L307.77,287.08 L307.91,285.67 L308.05,284.29 L308.19,282.98 L308.32,281.76 L308.53,280.01 L308.74,278.27 L308.94,276.59 L309.15,275.04 L309.36,273.67 L309.56,272.57 L309.82,271.51 L310.08,270.71 L310.34,270.09 L310.59,269.61 L310.85,269.19 L311.11,268.78 L311.37,268.38 L311.62,268.05 L311.88,267.78 L312.14,267.59 L312.40,267.47 L312.65,267.43 L313.17,267.49 L313.69,267.65 L314.20,267.89 L314.72,268.17 L315.23,268.48 L315.75,268.78 L316.44,269.19 L317.12,269.64 L317.81,270.12 L318.50,270.59 L319.18,271.06 L319.87,271.48 L320.56,271.88 L321.25,272.24 L321.93,272.60 L322.62,272.94 L323.31,273.29 L324.00,273.65 L324.67,274.01 L325.34,274.37 L326.01,274.73 L326.68,275.09 L327.35,275.45 L328.02,275.81 L328.12,274.73 L329.15,275.10 L330.18,275.50 L331.21,275.89 L332.24,276.26 L333.27,276.60 L334.31,276.89 L335.25,277.11 L336.20,277.28 L337.14,277.42 L338.09,277.53 L339.03,277.62 L339.98,277.71 L343.16,278.00 L346.33,278.31 L349.51,278.61 L352.69,278.85 L355.87,279.01 L359.05,279.06 L362.49,278.99 L365.92,278.83 L369.36,278.59 L372.80,278.27 L376.23,277.88 L379.67,277.44 L383.06,276.93 L386.44,276.36 L389.83,275.72 L393.21,275.01 L396.60,274.23 L399.98,273.38 L403.47,272.41 L406.96,271.37 L410.45,270.25 L413.93,269.07 L417.42,267.86 L420.91,266.62 L424.35,265.35 L427.78,264.04 L431.22,262.68 L434.66,261.30 L438.09,259.90 L441.53,258.50 L443.76,257.58 L446.00,256.63 L448.23,255.66 L450.47,254.70 L452.70,253.75 L454.93,252.82 L459.57,250.92 L464.21,249.02 L468.85,247.12 L473.49,245.26 L478.13,243.46 L482.77,241.73 L486.21,240.53 L489.64,239.42 L493.08,238.36 L496.52,237.33 L499.95,236.30 L503.39,235.24" stroke="#46668c" class="cv"/>
<path d="M307.50,283.93 L307.64,282.36 L307.77,280.76 L307.91,279.15 L308.05,277.59 L308.19,276.10 L308.32,274.73 L308.53,272.76 L308.74,270.80 L308.94,268.91 L309.15,267.18 L309.36,265.67 L309.56,264.45 L309.82,263.33 L310.08,262.51 L310.34,261.91 L310.59,261.45 L310.85,261.07 L311.11,260.66 L311.38,260.22 L311.66,259.83 L311.93,259.50 L312.21,259.25 L312.48,259.10 L312.76,259.04 L313.26,259.11 L313.75,259.31 L314.25,259.60 L314.75,259.94 L315.25,260.31 L315.75,260.66 L316.44,261.16 L317.12,261.70 L317.81,262.27 L318.50,262.84 L319.18,263.39 L319.87,263.91 L320.56,264.39 L321.25,264.85 L321.93,265.29 L322.62,265.73 L323.31,266.17 L324.00,266.62 L324.67,267.06 L325.34,267.51 L326.01,267.96 L326.68,268.42 L327.35,268.87 L328.02,269.32 L328.12,267.43 L329.15,267.75 L330.18,268.08 L331.21,268.42 L332.24,268.74 L333.27,269.04 L334.31,269.32 L335.25,269.56 L336.20,269.78 L337.14,269.99 L338.09,270.17 L339.03,270.31 L339.98,270.40 L343.33,270.66 L346.68,270.93 L350.03,271.16 L353.38,271.32 L356.73,271.35 L360.08,271.21 L363.35,270.91 L366.61,270.47 L369.88,269.90 L373.14,269.23 L376.41,268.49 L379.67,267.70 L383.11,266.79 L386.54,265.79 L389.98,264.71 L393.42,263.58 L396.85,262.40 L400.29,261.21 L402.01,260.57 L403.73,259.89 L405.44,259.16 L407.16,258.41 L408.88,257.65 L410.60,256.88 L412.32,256.10 L414.04,255.31 L415.75,254.51 L417.47,253.69 L419.19,252.86 L420.91,252.01 L422.63,251.14 L424.35,250.26 L426.06,249.37 L427.78,248.46 L429.50,247.54 L431.22,246.60 L432.94,245.64 L434.66,244.65 L436.38,243.66 L438.09,242.65 L439.81,241.65 L441.53,240.65 L443.25,239.65 L444.97,238.64 L446.69,237.64 L448.40,236.64 L450.12,235.66 L451.84,234.70 L453.56,233.76 L455.28,232.83 L457.00,231.92 L458.71,231.03 L460.43,230.15 L462.15,229.29 L463.87,228.43 L465.59,227.58 L467.31,226.75 L469.02,225.94 L470.74,225.16 L472.46,224.42 L474.18,223.72 L475.90,223.05 L477.62,222.42 L479.33,221.81 L481.05,221.22 L482.77,220.63 L484.49,220.05 L486.21,219.49 L487.93,218.94 L489.64,218.41 L491.36,217.89 L493.08,217.38 L494.80,216.90 L496.52,216.44 L498.24,216.00 L499.95,215.56 L501.67,215.12 L503.39,214.68" stroke="#5e4638" class="cv"/>
<rect x="297.90" y="198.80" width="215.40" height="124.80" class="box"/>
<line x1="294.70" y1="312.60" x2="297.90" y2="312.60" class="tk"/>
<text x="291.60" y="314.80" class="tl" text-anchor="end">10</text>
<line x1="294.70" y1="301.78" x2="297.90" y2="301.78" class="tk"/>
<text x="291.60" y="303.98" class="tl" text-anchor="end">12</text>
<line x1="294.70" y1="290.96" x2="297.90" y2="290.96" class="tk"/>
<text x="291.60" y="293.16" class="tl" text-anchor="end">14</text>
<line x1="294.70" y1="280.14" x2="297.90" y2="280.14" class="tk"/>
<text x="291.60" y="282.34" class="tl" text-anchor="end">16</text>
<line x1="294.70" y1="269.32" x2="297.90" y2="269.32" class="tk"/>
<text x="291.60" y="271.52" class="tl" text-anchor="end">18</text>
<line x1="294.70" y1="258.50" x2="297.90" y2="258.50" class="tk"/>
<text x="291.60" y="260.70" class="tl" text-anchor="end">20</text>
<line x1="294.70" y1="247.68" x2="297.90" y2="247.68" class="tk"/>
<text x="291.60" y="249.88" class="tl" text-anchor="end">22</text>
<line x1="294.70" y1="236.86" x2="297.90" y2="236.86" class="tk"/>
<text x="291.60" y="239.06" class="tl" text-anchor="end">24</text>
<line x1="294.70" y1="226.04" x2="297.90" y2="226.04" class="tk"/>
<text x="291.60" y="228.24" class="tl" text-anchor="end">26</text>
<line x1="294.70" y1="215.22" x2="297.90" y2="215.22" class="tk"/>
<text x="291.60" y="217.42" class="tl" text-anchor="end">28</text>
<line x1="294.70" y1="204.40" x2="297.90" y2="204.40" class="tk"/>
<text x="291.60" y="206.60" class="tl" text-anchor="end">30</text>
<line x1="307.50" y1="323.60" x2="307.50" y2="327.00" class="tk"/>
<text x="307.50" y="335.80" class="tl" text-anchor="middle">0</text>
<line x1="317.81" y1="323.60" x2="317.81" y2="327.00" class="tk"/>
<text x="317.81" y="335.80" class="tl" text-anchor="middle">1</text>
<line x1="328.12" y1="323.60" x2="328.12" y2="327.00" class="tk"/>
<text x="328.12" y="335.80" class="tl" text-anchor="middle">2</text>
<line x1="338.43" y1="323.60" x2="338.43" y2="327.00" class="tk"/>
<text x="338.43" y="335.80" class="tl" text-anchor="middle">3</text>
<line x1="348.74" y1="323.60" x2="348.74" y2="327.00" class="tk"/>
<text x="348.74" y="335.80" class="tl" text-anchor="middle">4</text>
<line x1="359.05" y1="323.60" x2="359.05" y2="327.00" class="tk"/>
<text x="359.05" y="335.80" class="tl" text-anchor="middle">5</text>
<line x1="369.36" y1="323.60" x2="369.36" y2="327.00" class="tk"/>
<text x="369.36" y="335.80" class="tl" text-anchor="middle">6</text>
<line x1="379.67" y1="323.60" x2="379.67" y2="327.00" class="tk"/>
<text x="379.67" y="335.80" class="tl" text-anchor="middle">7</text>
<line x1="389.98" y1="323.60" x2="389.98" y2="327.00" class="tk"/>
<text x="389.98" y="335.80" class="tl" text-anchor="middle">8</text>
<line x1="400.29" y1="323.60" x2="400.29" y2="327.00" class="tk"/>
<text x="400.29" y="335.80" class="tl" text-anchor="middle">9</text>
<line x1="410.60" y1="323.60" x2="410.60" y2="327.00" class="tk"/>
<text x="410.60" y="335.80" class="tl" text-anchor="middle">10</text>
<line x1="420.91" y1="323.60" x2="420.91" y2="327.00" class="tk"/>
<text x="420.91" y="335.80" class="tl" text-anchor="middle">11</text>
<line x1="431.22" y1="323.60" x2="431.22" y2="327.00" class="tk"/>
<text x="431.22" y="335.80" class="tl" text-anchor="middle">12</text>
<line x1="441.53" y1="323.60" x2="441.53" y2="327.00" class="tk"/>
<text x="441.53" y="335.80" class="tl" text-anchor="middle">13</text>
<line x1="451.84" y1="323.60" x2="451.84" y2="327.00" class="tk"/>
<text x="451.84" y="335.80" class="tl" text-anchor="middle">14</text>
<line x1="462.15" y1="323.60" x2="462.15" y2="327.00" class="tk"/>
<text x="462.15" y="335.80" class="tl" text-anchor="middle">15</text>
<line x1="472.46" y1="323.60" x2="472.46" y2="327.00" class="tk"/>
<text x="472.46" y="335.80" class="tl" text-anchor="middle">16</text>
<line x1="482.77" y1="323.60" x2="482.77" y2="327.00" class="tk"/>
<text x="482.77" y="335.80" class="tl" text-anchor="middle">17</text>
<line x1="493.08" y1="323.60" x2="493.08" y2="327.00" class="tk"/>
<text x="493.08" y="335.80" class="tl" text-anchor="middle">18</text>
<line x1="503.39" y1="323.60" x2="503.39" y2="327.00" class="tk"/>
<text x="503.39" y="335.80" class="tl" text-anchor="middle">19</text>
<text x="405.60" y="347.90" class="al" text-anchor="middle" textLength="31.5" lengthAdjust="spacingAndGlyphs">Age (years)</text>
<text transform="translate(278.00,261.20) rotate(-90)" class="al" text-anchor="middle" textLength="33.4" lengthAdjust="spacingAndGlyphs">BMI (kg/m<tspan dy="-2.6" font-size="4.8">2</tspan><tspan dy="2.6">)</tspan></text>
<text x="143.60" y="372.70" class="tt" text-anchor="middle" textLength="55.6" lengthAdjust="spacingAndGlyphs">Female Weight</text>
<path d="M49.71,495.30 L50.58,495.01 L51.44,494.71 L52.31,494.42 L53.18,494.12 L54.05,493.83 L54.91,493.55 L56.65,492.98 L58.39,492.41 L60.12,491.85 L61.86,491.30 L63.59,490.76 L65.33,490.25 L67.07,489.77 L68.80,489.32 L70.54,488.88 L72.27,488.45 L74.01,488.04 L75.75,487.62 L76.44,487.46 L77.13,487.33 L77.83,487.20 L78.52,487.06 L79.22,486.91 L79.91,486.74 L80.95,486.43 L81.99,486.10 L83.04,485.75 L84.08,485.40 L85.12,485.07 L86.16,484.76 L87.90,484.29 L89.63,483.84 L91.37,483.41 L93.10,482.98 L94.84,482.55 L96.57,482.13 L97.81,481.83 L99.04,481.54 L100.27,481.26 L101.50,480.98 L102.74,480.68 L103.97,480.37 L104.99,480.10 L106.02,479.81 L107.04,479.52 L108.07,479.22 L109.09,478.92 L110.11,478.61 L113.07,477.74 L116.02,476.86 L118.97,475.97 L121.92,475.09 L124.87,474.21 L127.82,473.34 L131.52,472.25 L135.21,471.15 L138.91,470.05 L142.61,468.98 L146.31,467.95 L150.00,466.98 L151.67,466.60 L153.34,466.30 L155.00,466.04 L156.67,465.79 L158.34,465.53 L160.00,465.22 L162.45,464.71 L164.90,464.18 L167.34,463.63 L169.79,463.07 L172.24,462.50 L174.69,461.92 L176.41,461.51 L178.12,461.07 L179.84,460.63 L181.56,460.18 L183.28,459.73 L185.00,459.29 L187.50,458.68 L190.00,458.10 L192.50,457.52 L195.00,456.92 L197.50,456.27 L200.00,455.56 L201.85,454.97 L203.71,454.34 L205.57,453.66 L207.43,452.94 L209.28,452.18 L211.14,451.38 L212.88,450.59 L214.61,449.75 L216.35,448.86 L218.08,447.96 L219.82,447.03 L221.55,446.11 L222.94,445.40 L224.33,444.69 L225.72,443.97 L227.11,443.22 L228.50,442.40 L229.89,441.50 L231.97,440.02 L234.05,438.44 L236.14,436.81 L238.22,435.14 L240.30,433.48 L242.38,431.84" stroke="#48a052" class="cv" stroke-dasharray="2.2,2.2"/>
<path d="M49.71,494.65 L50.58,494.27 L51.44,493.90 L52.31,493.52 L53.18,493.15 L54.05,492.79 L54.91,492.45 L56.65,491.80 L58.39,491.16 L60.12,490.54 L61.86,489.93 L63.59,489.32 L65.33,488.72 L67.07,488.12 L68.80,487.52 L70.54,486.94 L72.27,486.36 L74.01,485.78 L75.75,485.20 L76.44,484.98 L77.13,484.75 L77.83,484.54 L78.52,484.32 L79.22,484.10 L79.91,483.88 L80.95,483.56 L81.99,483.23 L83.04,482.90 L84.08,482.57 L85.12,482.24 L86.16,481.91 L87.90,481.36 L89.63,480.80 L91.37,480.24 L93.10,479.69 L94.84,479.15 L96.57,478.61 L98.83,477.94 L101.09,477.29 L103.34,476.65 L105.60,476.00 L107.86,475.34 L110.11,474.66 L113.07,473.75 L116.02,472.83 L118.97,471.89 L121.92,470.94 L124.87,469.96 L127.82,468.95 L131.52,467.65 L135.21,466.31 L138.91,464.95 L142.61,463.57 L146.31,462.20 L150.00,460.83 L151.67,460.20 L153.34,459.57 L155.00,458.93 L156.67,458.30 L158.34,457.69 L160.00,457.09 L162.45,456.26 L164.90,455.46 L167.34,454.67 L169.79,453.88 L172.24,453.08 L174.69,452.26 L176.41,451.66 L178.12,451.05 L179.84,450.42 L181.56,449.79 L183.28,449.16 L185.00,448.53 L187.50,447.64 L190.00,446.76 L192.50,445.89 L195.00,444.99 L197.50,444.05 L200.00,443.04 L201.85,442.22 L203.71,441.34 L205.57,440.42 L207.43,439.47 L209.28,438.50 L211.14,437.55 L213.45,436.37 L215.76,435.19 L218.07,434.00 L220.37,432.79 L222.68,431.56 L224.99,430.30 L225.81,429.84 L226.62,429.36 L227.44,428.86 L228.26,428.34 L229.07,427.79 L229.89,427.23 L231.97,425.74 L234.05,424.21 L236.14,422.66 L238.22,421.11 L240.30,419.55 L242.38,418.00" stroke="#d88e3e" class="cv" stroke-dasharray="2.2,2.2"/>
<path d="M49.71,493.33 L50.58,492.88 L51.44,492.43 L52.31,491.98 L53.18,491.54 L54.05,491.11 L54.91,490.69 L56.65,489.89 L58.39,489.10 L60.12,488.32 L61.86,487.55 L63.59,486.81 L65.33,486.08 L67.07,485.38 L68.80,484.71 L70.54,484.05 L72.27,483.40 L74.01,482.77 L75.75,482.13 L77.48,481.49 L79.22,480.86 L80.95,480.23 L82.69,479.61 L84.42,479.00 L86.16,478.39 L87.90,477.79 L89.63,477.17 L91.37,476.57 L93.10,475.98 L94.84,475.41 L96.57,474.88 L98.83,474.25 L101.09,473.68 L103.34,473.13 L105.60,472.58 L107.86,472.00 L110.11,471.37 L113.07,470.49 L116.02,469.60 L118.97,468.69 L121.92,467.73 L124.87,466.73 L127.82,465.66 L131.52,464.23 L135.21,462.73 L138.91,461.18 L142.61,459.60 L146.31,458.01 L150.00,456.43 L151.67,455.72 L153.34,455.00 L155.00,454.26 L156.67,453.52 L158.34,452.78 L160.00,452.04 L161.58,451.35 L163.16,450.66 L164.74,449.97 L166.32,449.27 L167.90,448.57 L169.48,447.87 L172.07,446.71 L174.65,445.53 L177.24,444.35 L179.83,443.18 L182.41,442.00 L185.00,440.84 L187.50,439.75 L190.00,438.69 L192.50,437.63 L195.00,436.55 L197.50,435.43 L200.00,434.26 L201.85,433.32 L203.71,432.34 L205.57,431.32 L207.43,430.27 L209.28,429.20 L211.14,428.11 L213.45,426.73 L215.76,425.32 L218.07,423.89 L220.37,422.44 L222.68,420.99 L224.99,419.54 L227.89,417.72 L230.79,415.90 L233.69,414.06 L236.59,412.23 L239.49,410.39 L242.38,408.56" stroke="#3f4c58" class="cv" stroke-dasharray="2.2,2.2"/>
<path d="M49.71,492.67 L50.58,492.19 L51.44,491.70 L52.31,491.20 L53.18,490.72 L54.05,490.26 L54.91,489.81 L56.65,488.96 L58.39,488.13 L60.12,487.31 L61.86,486.51 L63.59,485.73 L65.33,484.98 L67.07,484.27 L68.80,483.60 L70.54,482.95 L72.27,482.32 L74.01,481.68 L75.75,481.03 L77.48,480.37 L79.22,479.70 L80.95,479.04 L82.69,478.38 L84.42,477.72 L86.16,477.08 L87.90,476.43 L89.63,475.79 L91.37,475.15 L93.10,474.52 L94.84,473.92 L96.57,473.34 L98.83,472.65 L101.09,472.01 L103.34,471.40 L105.60,470.77 L107.86,470.11 L110.11,469.39 L113.07,468.39 L116.02,467.38 L118.97,466.34 L121.92,465.24 L124.87,464.07 L127.82,462.80 L131.52,461.09 L135.21,459.29 L138.91,457.40 L142.61,455.48 L146.31,453.54 L150.00,451.60 L151.67,450.72 L153.34,449.82 L155.00,448.90 L156.67,447.97 L158.34,447.04 L160.00,446.11 L161.58,445.24 L163.16,444.37 L164.74,443.49 L166.32,442.61 L167.90,441.73 L169.48,440.84 L172.07,439.38 L174.65,437.89 L177.24,436.41 L179.83,434.93 L182.41,433.48 L185.00,432.06 L187.50,430.73 L190.00,429.44 L192.50,428.17 L195.00,426.90 L197.50,425.64 L200.00,424.37 L201.85,423.43 L203.71,422.51 L205.57,421.59 L207.43,420.65 L209.28,419.68 L211.14,418.66 L213.45,417.32 L215.76,415.91 L218.07,414.47 L220.37,413.03 L222.68,411.64 L224.99,410.32 L227.89,408.77 L230.79,407.28 L233.69,405.83 L236.59,404.41 L239.49,402.98 L242.38,401.53" stroke="#36506e" class="cv" stroke-dasharray="2.2,2.2"/>
<path d="M49.71,491.79 L50.58,491.27 L51.44,490.74 L52.31,490.21 L53.18,489.69 L54.05,489.19 L54.91,488.72 L56.65,487.82 L58.39,486.95 L60.12,486.10 L61.86,485.27 L63.59,484.46 L65.33,483.67 L67.07,482.89 L68.80,482.14 L70.54,481.41 L72.27,480.70 L74.01,479.98 L75.75,479.27 L77.48,478.57 L79.22,477.87 L80.95,477.19 L82.69,476.50 L84.42,475.81 L86.16,475.10 L87.90,474.38 L89.63,473.65 L91.37,472.92 L93.10,472.18 L94.84,471.44 L96.57,470.71 L98.83,469.78 L101.09,468.86 L103.34,467.95 L105.60,467.02 L107.86,466.04 L110.11,465.00 L112.89,463.63 L115.67,462.20 L118.45,460.73 L121.22,459.23 L124.00,457.72 L126.78,456.22 L128.69,455.19 L130.60,454.15 L132.51,453.11 L134.42,452.04 L136.33,450.96 L138.23,449.85 L140.20,448.68 L142.16,447.51 L144.12,446.31 L146.08,445.08 L148.04,443.81 L150.00,442.49 L152.03,441.06 L154.07,439.58 L156.10,438.05 L158.13,436.50 L160.16,434.94 L162.19,433.38 L164.10,431.90 L166.01,430.40 L167.92,428.88 L169.83,427.36 L171.74,425.86 L173.65,424.37 L175.54,422.91 L177.43,421.46 L179.32,420.01 L181.21,418.58 L183.11,417.18 L185.00,415.81 L186.75,414.57 L188.50,413.34 L190.26,412.14 L192.01,410.98 L193.76,409.86 L195.52,408.78 L197.25,407.77 L198.99,406.79 L200.72,405.86 L202.46,404.97 L204.20,404.11 L205.93,403.29 L207.67,402.51 L209.40,401.77 L211.14,401.07 L212.88,400.39 L214.61,399.75 L216.35,399.12 L217.79,398.63 L219.23,398.19 L220.67,397.76 L222.11,397.35 L223.55,396.93 L224.99,396.48 L226.50,395.99 L228.01,395.48 L229.52,394.97 L231.03,394.45 L232.54,393.93 L234.05,393.41 L235.44,392.94 L236.83,392.46 L238.22,391.98 L239.61,391.51 L241.00,391.03 L242.38,390.55" stroke="#3e3129" class="cv" stroke-dasharray="2.2,2.2"/>
<path d="M45.54,497.06 L45.89,496.54 L46.24,496.00 L46.58,495.47 L46.93,494.95 L47.28,494.45 L47.62,493.99 L48.06,493.43 L48.49,492.86 L48.93,492.32 L49.36,491.84 L49.79,491.43 L50.23,491.13 L51.01,490.78 L51.79,490.56 L52.57,490.41 L53.35,490.30 L54.13,490.19 L54.91,490.03 L55.78,489.83 L56.65,489.63 L57.52,489.42 L58.39,489.21 L59.25,488.97 L60.12,488.72 L60.99,488.42 L61.86,488.10 L62.73,487.76 L63.59,487.41 L64.46,487.07 L65.33,486.74 L67.07,486.10 L68.80,485.47 L70.54,484.84 L72.27,484.21 L74.01,483.60 L75.75,483.01 L77.48,482.43 L79.22,481.88 L80.95,481.33 L82.69,480.79 L84.42,480.26 L86.16,479.71 L87.90,479.17 L89.63,478.63 L91.37,478.09 L93.10,477.55 L94.84,476.99 L96.57,476.42 L98.31,475.82 L100.05,475.21 L101.78,474.58 L103.52,473.95 L105.25,473.31 L106.99,472.69 L108.73,472.07 L110.46,471.46 L112.20,470.85 L113.93,470.23 L115.67,469.60 L117.41,468.95 L119.14,468.29 L120.88,467.62 L122.61,466.93 L124.35,466.24 L126.08,465.52 L127.82,464.78 L129.56,464.02 L131.29,463.23 L133.03,462.43 L134.76,461.62 L136.50,460.79 L138.23,459.95 L139.97,459.10 L141.71,458.22 L143.44,457.34 L145.18,456.45 L146.91,455.56 L148.65,454.68" stroke="#5cb565" class="cv"/>
<path d="M45.54,496.84 L45.89,496.16 L46.24,495.46 L46.58,494.76 L46.93,494.08 L47.28,493.45 L47.62,492.89 L48.06,492.25 L48.49,491.63 L48.93,491.06 L49.36,490.55 L49.79,490.13 L50.23,489.81 L51.01,489.42 L51.79,489.15 L52.57,488.97 L53.35,488.83 L54.13,488.69 L54.91,488.50 L55.78,488.25 L56.65,488.01 L57.52,487.77 L58.39,487.52 L59.25,487.25 L60.12,486.96 L60.99,486.63 L61.86,486.28 L62.73,485.90 L63.59,485.52 L64.46,485.14 L65.33,484.76 L67.07,484.03 L68.80,483.28 L70.54,482.54 L72.27,481.80 L74.01,481.08 L75.75,480.37 L77.48,479.69 L79.22,479.02 L80.95,478.37 L82.69,477.72 L84.42,477.07 L86.16,476.42 L87.90,475.76 L89.63,475.11 L91.37,474.46 L93.10,473.80 L94.84,473.14 L96.57,472.47 L98.31,471.79 L100.05,471.10 L101.78,470.41 L103.52,469.71 L105.25,469.00 L106.99,468.29 L108.73,467.58 L110.46,466.87 L112.20,466.15 L113.93,465.42 L115.67,464.67 L117.41,463.90 L119.14,463.11 L120.88,462.30 L122.61,461.47 L124.35,460.62 L126.08,459.75 L127.82,458.85 L129.56,457.93 L131.29,456.98 L133.03,456.01 L134.76,455.01 L136.50,453.98 L138.23,452.92 L139.97,451.81 L141.71,450.66 L143.44,449.48 L145.18,448.28 L146.91,447.08 L148.65,445.89" stroke="#eba24a" class="cv"/>
<path d="M45.54,496.62 L45.89,495.87 L46.24,495.09 L46.58,494.30 L46.93,493.55 L47.28,492.85 L47.62,492.23 L48.06,491.53 L48.49,490.87 L48.93,490.26 L49.36,489.73 L49.79,489.28 L50.23,488.94 L51.01,488.50 L51.79,488.19 L52.57,487.97 L53.35,487.80 L54.13,487.62 L54.91,487.40 L55.78,487.12 L56.65,486.84 L57.52,486.56 L58.39,486.28 L59.25,485.97 L60.12,485.64 L60.99,485.28 L61.86,484.90 L62.73,484.49 L63.59,484.08 L64.46,483.65 L65.33,483.23 L67.07,482.36 L68.80,481.47 L70.54,480.58 L72.27,479.69 L74.01,478.81 L75.75,477.96 L77.48,477.12 L79.22,476.30 L80.95,475.50 L82.69,474.70 L84.42,473.91 L86.16,473.12 L87.90,472.34 L89.63,471.56 L91.37,470.79 L93.10,470.03 L94.84,469.27 L96.57,468.51 L98.31,467.77 L100.05,467.05 L101.78,466.33 L103.52,465.61 L105.25,464.88 L106.99,464.12 L108.73,463.35 L110.46,462.58 L112.20,461.79 L113.93,460.98 L115.67,460.15 L117.41,459.29 L119.14,458.40 L120.88,457.50 L122.61,456.57 L124.35,455.61 L126.08,454.62 L127.82,453.58 L129.56,452.50 L131.29,451.38 L133.03,450.22 L134.76,449.03 L136.50,447.80 L138.23,446.55 L139.97,445.26 L141.71,443.93 L143.44,442.56 L145.18,441.18 L146.91,439.79 L148.65,438.43" stroke="#56677a" class="cv"/>
<path d="M45.54,496.40 L45.89,495.53 L46.24,494.63 L46.58,493.73 L46.93,492.86 L47.28,492.06 L47.62,491.35 L48.06,490.56 L48.49,489.81 L48.93,489.12 L49.36,488.51 L49.79,488.01 L50.23,487.62 L51.01,487.12 L51.79,486.76 L52.57,486.51 L53.35,486.30 L54.13,486.10 L54.91,485.86 L55.78,485.57 L56.65,485.29 L57.52,485.03 L58.39,484.75 L59.25,484.45 L60.12,484.10 L60.99,483.72 L61.86,483.31 L62.73,482.87 L63.59,482.41 L64.46,481.94 L65.33,481.47 L67.07,480.50 L68.80,479.51 L70.54,478.50 L72.27,477.50 L74.01,476.51 L75.75,475.54 L77.48,474.60 L79.22,473.67 L80.95,472.75 L82.69,471.85 L84.42,470.95 L86.16,470.05 L87.90,469.16 L89.63,468.29 L91.37,467.41 L93.10,466.54 L94.84,465.67 L96.57,464.78 L98.31,463.88 L100.05,462.97 L101.78,462.06 L103.52,461.14 L105.25,460.22 L106.99,459.29 L108.73,458.36 L110.46,457.44 L112.20,456.50 L113.93,455.56 L115.67,454.58 L117.41,453.58 L119.14,452.55 L120.88,451.51 L122.61,450.44 L124.35,449.33 L126.08,448.19 L127.82,446.99 L129.56,445.74 L131.29,444.44 L133.03,443.09 L134.76,441.71 L136.50,440.30 L138.23,438.87 L139.97,437.39 L141.71,435.87 L143.44,434.32 L145.18,432.76 L146.91,431.19 L148.65,429.64" stroke="#46668c" class="cv"/>
<path d="M45.54,496.18 L45.89,495.16 L46.24,494.10 L46.58,493.04 L46.93,492.02 L47.28,491.07 L47.62,490.25 L48.06,489.35 L48.49,488.51 L48.93,487.76 L49.36,487.10 L49.79,486.53 L50.23,486.08 L51.01,485.46 L51.79,484.99 L52.57,484.62 L53.35,484.30 L54.13,484.00 L54.91,483.67 L55.78,483.28 L56.65,482.93 L57.52,482.59 L58.39,482.25 L59.25,481.88 L60.12,481.47 L60.99,481.01 L61.86,480.53 L62.73,480.02 L63.59,479.50 L64.46,478.95 L65.33,478.39 L67.07,477.25 L68.80,476.08 L70.54,474.89 L72.27,473.70 L74.01,472.52 L75.75,471.37 L77.48,470.24 L79.22,469.14 L80.95,468.05 L82.69,466.96 L84.42,465.87 L86.16,464.78 L87.90,463.69 L89.63,462.61 L91.37,461.53 L93.10,460.44 L94.84,459.33 L96.57,458.19 L98.31,457.02 L100.05,455.83 L101.78,454.62 L103.52,453.40 L105.25,452.17 L106.99,450.94 L108.73,449.73 L110.46,448.54 L112.20,447.34 L113.93,446.11 L115.67,444.83 L117.41,443.48 L119.14,442.05 L120.88,440.56 L122.61,439.02 L124.35,437.44 L126.08,435.85 L127.82,434.26 L129.56,432.66 L131.29,431.06 L133.03,429.44 L134.76,427.79 L136.50,426.10 L138.23,424.37 L139.97,422.58 L141.71,420.74 L143.44,418.86 L145.18,416.96 L146.91,415.06 L148.65,413.17" stroke="#5e4638" class="cv"/>
<rect x="34.90" y="378.00" width="217.40" height="125.20" class="box"/>
<line x1="31.70" y1="497.50" x2="34.90" y2="497.50" class="tk"/>
<text x="28.60" y="499.70" class="tl" text-anchor="end">5</text>
<line x1="31.70" y1="475.54" x2="34.90" y2="475.54" class="tk"/>
<text x="28.60" y="477.74" class="tl" text-anchor="end">15</text>
<line x1="31.70" y1="453.58" x2="34.90" y2="453.58" class="tk"/>
<text x="28.60" y="455.78" class="tl" text-anchor="end">25</text>
<line x1="31.70" y1="431.62" x2="34.90" y2="431.62" class="tk"/>
<text x="28.60" y="433.82" class="tl" text-anchor="end">35</text>
<line x1="31.70" y1="409.66" x2="34.90" y2="409.66" class="tk"/>
<text x="28.60" y="411.86" class="tl" text-anchor="end">45</text>
<line x1="31.70" y1="387.70" x2="34.90" y2="387.70" class="tk"/>
<text x="28.60" y="389.90" class="tl" text-anchor="end">55</text>
<line x1="44.50" y1="503.20" x2="44.50" y2="506.60" class="tk"/>
<text x="44.50" y="515.40" class="tl" text-anchor="middle">0</text>
<line x1="54.91" y1="503.20" x2="54.91" y2="506.60" class="tk"/>
<text x="54.91" y="515.40" class="tl" text-anchor="middle">1</text>
<line x1="65.33" y1="503.20" x2="65.33" y2="506.60" class="tk"/>
<text x="65.33" y="515.40" class="tl" text-anchor="middle">2</text>
<line x1="75.75" y1="503.20" x2="75.75" y2="506.60" class="tk"/>
<text x="75.75" y="515.40" class="tl" text-anchor="middle">3</text>
<line x1="86.16" y1="503.20" x2="86.16" y2="506.60" class="tk"/>
<text x="86.16" y="515.40" class="tl" text-anchor="middle">4</text>
<line x1="96.57" y1="503.20" x2="96.57" y2="506.60" class="tk"/>
<text x="96.57" y="515.40" class="tl" text-anchor="middle">5</text>
<line x1="106.99" y1="503.20" x2="106.99" y2="506.60" class="tk"/>
<text x="106.99" y="515.40" class="tl" text-anchor="middle">6</text>
<line x1="117.41" y1="503.20" x2="117.41" y2="506.60" class="tk"/>
<text x="117.41" y="515.40" class="tl" text-anchor="middle">7</text>
<line x1="127.82" y1="503.20" x2="127.82" y2="506.60" class="tk"/>
<text x="127.82" y="515.40" class="tl" text-anchor="middle">8</text>
<line x1="138.23" y1="503.20" x2="138.23" y2="506.60" class="tk"/>
<text x="138.23" y="515.40" class="tl" text-anchor="middle">9</text>
<line x1="148.65" y1="503.20" x2="148.65" y2="506.60" class="tk"/>
<text x="148.65" y="515.40" class="tl" text-anchor="middle">10</text>
<line x1="159.06" y1="503.20" x2="159.06" y2="506.60" class="tk"/>
<text x="159.06" y="515.40" class="tl" text-anchor="middle">11</text>
<line x1="169.48" y1="503.20" x2="169.48" y2="506.60" class="tk"/>
<text x="169.48" y="515.40" class="tl" text-anchor="middle">12</text>
<line x1="179.89" y1="503.20" x2="179.89" y2="506.60" class="tk"/>
<text x="179.89" y="515.40" class="tl" text-anchor="middle">13</text>
<line x1="190.31" y1="503.20" x2="190.31" y2="506.60" class="tk"/>
<text x="190.31" y="515.40" class="tl" text-anchor="middle">14</text>
<line x1="200.72" y1="503.20" x2="200.72" y2="506.60" class="tk"/>
<text x="200.72" y="515.40" class="tl" text-anchor="middle">15</text>
<line x1="211.14" y1="503.20" x2="211.14" y2="506.60" class="tk"/>
<text x="211.14" y="515.40" class="tl" text-anchor="middle">16</text>
<line x1="221.55" y1="503.20" x2="221.55" y2="506.60" class="tk"/>
<text x="221.55" y="515.40" class="tl" text-anchor="middle">17</text>
<line x1="231.97" y1="503.20" x2="231.97" y2="506.60" class="tk"/>
<text x="231.97" y="515.40" class="tl" text-anchor="middle">18</text>
<line x1="242.38" y1="503.20" x2="242.38" y2="506.60" class="tk"/>
<text x="242.38" y="515.40" class="tl" text-anchor="middle">19</text>
<text x="143.60" y="527.50" class="al" text-anchor="middle" textLength="31.5" lengthAdjust="spacingAndGlyphs">Age (years)</text>
<text transform="translate(15.70,441.20) rotate(-90)" class="al" text-anchor="middle" textLength="31.2" lengthAdjust="spacingAndGlyphs">Weight (kg)</text>
<text x="404.55" y="372.90" class="tt" text-anchor="middle" textLength="47.0" lengthAdjust="spacingAndGlyphs">Male Weight</text>
<path d="M310.81,493.42 L311.67,493.12 L312.54,492.82 L313.41,492.52 L314.28,492.22 L315.14,491.94 L316.01,491.66 L317.75,491.13 L319.48,490.60 L321.22,490.09 L322.95,489.58 L324.69,489.08 L326.42,488.58 L327.51,488.27 L328.61,487.98 L329.70,487.69 L330.79,487.40 L331.89,487.12 L332.98,486.82 L333.62,486.64 L334.26,486.45 L334.90,486.26 L335.55,486.08 L336.19,485.89 L336.83,485.72 L338.56,485.27 L340.30,484.83 L342.04,484.40 L343.77,483.97 L345.50,483.53 L347.24,483.08 L348.98,482.61 L350.71,482.12 L352.45,481.63 L354.18,481.14 L355.92,480.66 L357.65,480.22 L360.55,479.52 L363.44,478.85 L366.34,478.20 L369.24,477.55 L372.14,476.91 L375.03,476.26 L377.34,475.75 L379.65,475.25 L381.96,474.75 L384.26,474.24 L386.57,473.72 L388.88,473.18 L392.35,472.33 L395.82,471.46 L399.29,470.57 L402.76,469.68 L406.23,468.79 L409.70,467.90 L414.75,466.63 L419.80,465.37 L424.85,464.12 L429.90,462.84 L434.94,461.54 L439.99,460.20 L445.35,458.72 L450.72,457.19 L456.08,455.63 L461.44,454.07 L466.80,452.50 L472.16,450.96 L477.37,449.48 L482.57,448.01 L487.78,446.55 L492.98,445.09 L498.19,443.62 L503.39,442.16" stroke="#48a052" class="cv" stroke-dasharray="2.2,2.2"/>
<path d="M310.81,492.76 L311.67,492.31 L312.54,491.85 L313.41,491.39 L314.28,490.95 L315.14,490.52 L316.01,490.12 L317.75,489.37 L319.48,488.65 L321.22,487.94 L322.95,487.26 L324.69,486.59 L326.42,485.94 L328.16,485.31 L329.89,484.71 L331.62,484.12 L333.36,483.55 L335.10,482.99 L336.83,482.42 L338.56,481.85 L340.30,481.30 L342.04,480.74 L343.77,480.20 L345.50,479.65 L347.24,479.12 L348.98,478.58 L350.71,478.04 L352.45,477.50 L354.18,476.98 L355.92,476.49 L357.65,476.04 L360.55,475.37 L363.44,474.76 L366.34,474.17 L369.24,473.59 L372.14,472.97 L375.03,472.30 L377.34,471.70 L379.65,471.06 L381.96,470.39 L384.26,469.70 L386.57,469.01 L388.88,468.34 L392.35,467.38 L395.82,466.46 L399.29,465.55 L402.76,464.59 L406.23,463.55 L409.70,462.40 L414.75,460.53 L419.80,458.52 L424.85,456.44 L429.90,454.34 L434.94,452.27 L439.99,450.30 L445.35,448.32 L450.72,446.39 L456.08,444.50 L461.44,442.63 L466.80,440.76 L472.16,438.86 L477.37,437.00 L482.57,435.13 L487.78,433.26 L492.98,431.38 L498.19,429.51 L503.39,427.64" stroke="#d88e3e" class="cv" stroke-dasharray="2.2,2.2"/>
<path d="M310.81,492.10 L311.67,491.61 L312.54,491.11 L313.41,490.62 L314.28,490.13 L315.14,489.67 L316.01,489.24 L317.75,488.45 L319.48,487.69 L321.22,486.96 L322.95,486.24 L324.69,485.54 L326.42,484.84 L328.16,484.15 L329.89,483.47 L331.62,482.81 L333.36,482.15 L335.10,481.51 L336.83,480.88 L338.56,480.27 L340.30,479.67 L342.04,479.09 L343.77,478.52 L345.50,477.94 L347.24,477.36 L348.98,476.77 L350.71,476.18 L352.45,475.58 L354.18,474.99 L355.92,474.41 L357.65,473.84 L360.55,472.91 L363.44,472.00 L366.34,471.09 L369.24,470.18 L372.14,469.27 L375.03,468.34 L377.34,467.59 L379.65,466.83 L381.96,466.06 L384.26,465.29 L386.57,464.51 L388.88,463.72 L392.35,462.54 L395.82,461.36 L399.29,460.17 L402.76,458.97 L406.23,457.73 L409.70,456.46 L414.75,454.56 L419.80,452.63 L424.85,450.68 L429.90,448.69 L434.94,446.65 L439.99,444.58 L445.35,442.32 L450.72,440.02 L456.08,437.67 L461.44,435.29 L466.80,432.90 L472.16,430.50 L477.37,428.15 L482.57,425.78 L487.78,423.39 L492.98,420.99 L498.19,418.59 L503.39,416.20" stroke="#3f4c58" class="cv" stroke-dasharray="2.2,2.2"/>
<path d="M310.81,491.44 L311.67,490.96 L312.54,490.46 L313.41,489.97 L314.28,489.49 L315.14,489.02 L316.01,488.58 L317.75,487.73 L319.48,486.90 L321.22,486.08 L322.95,485.28 L324.69,484.50 L326.42,483.74 L328.16,483.00 L329.89,482.28 L331.62,481.58 L333.36,480.90 L335.10,480.22 L336.83,479.56 L338.56,478.91 L340.30,478.28 L342.04,477.66 L343.77,477.05 L345.50,476.44 L347.24,475.82 L348.98,475.20 L350.71,474.58 L352.45,473.96 L354.18,473.33 L355.92,472.71 L357.65,472.08 L360.55,471.03 L363.44,469.98 L366.34,468.93 L369.24,467.86 L372.14,466.79 L375.03,465.70 L377.34,464.81 L379.65,463.91 L381.96,462.99 L384.26,462.07 L386.57,461.14 L388.88,460.20 L392.35,458.80 L395.82,457.39 L399.29,455.98 L402.76,454.56 L406.23,453.11 L409.70,451.62 L414.75,449.43 L419.80,447.22 L424.85,444.99 L429.90,442.72 L434.94,440.39 L439.99,437.98 L445.35,435.32 L450.72,432.59 L456.08,429.79 L461.44,426.95 L466.80,424.10 L472.16,421.26 L477.37,418.50 L482.57,415.72 L487.78,412.93 L492.98,410.13 L498.19,407.33 L503.39,404.54" stroke="#36506e" class="cv" stroke-dasharray="2.2,2.2"/>
<path d="M310.81,491.00 L311.67,490.50 L312.54,490.00 L313.41,489.51 L314.28,489.01 L315.14,488.48 L316.01,487.92 L317.92,486.58 L319.83,485.16 L321.74,483.72 L323.64,482.30 L325.55,480.97 L327.46,479.78 L329.02,478.95 L330.58,478.23 L332.15,477.60 L333.71,477.01 L335.27,476.43 L336.83,475.82 L338.56,475.11 L340.30,474.41 L342.04,473.72 L343.77,473.03 L345.50,472.33 L347.24,471.64 L348.98,470.95 L350.71,470.25 L352.45,469.56 L354.18,468.87 L355.92,468.17 L357.65,467.46 L360.55,466.26 L363.44,465.05 L366.34,463.84 L369.24,462.62 L372.14,461.41 L375.03,460.20 L377.34,459.25 L379.65,458.31 L381.96,457.37 L384.26,456.42 L386.57,455.46 L388.88,454.48 L392.35,453.01 L395.82,451.58 L399.29,450.13 L402.76,448.62 L406.23,447.00 L409.70,445.24 L414.75,442.47 L419.80,439.58 L424.85,436.59 L429.90,433.51 L434.94,430.37 L439.99,427.20 L445.35,423.78 L450.72,420.28 L456.08,416.72 L461.44,413.12 L466.80,409.49 L472.16,405.86 L477.37,402.32 L482.57,398.74 L487.78,395.13 L492.98,391.52 L498.19,387.90 L503.39,384.30" stroke="#3e3129" class="cv" stroke-dasharray="2.2,2.2"/>
<path d="M306.95,495.40 L307.34,494.87 L307.72,494.33 L308.10,493.79 L308.48,493.26 L308.86,492.77 L309.24,492.32 L309.66,491.86 L310.08,491.43 L310.49,491.02 L310.91,490.65 L311.33,490.35 L311.74,490.12 L312.45,489.86 L313.16,489.69 L313.88,489.59 L314.59,489.50 L315.30,489.40 L316.01,489.24 L316.88,488.98 L317.75,488.70 L318.61,488.40 L319.48,488.09 L320.35,487.78 L321.22,487.48 L322.08,487.19 L322.95,486.89 L323.82,486.60 L324.69,486.31 L325.55,486.01 L326.42,485.72 L328.16,485.13 L329.89,484.54 L331.62,483.95 L333.36,483.36 L335.10,482.77 L336.83,482.20 L338.56,481.64 L340.30,481.08 L342.04,480.54 L343.77,479.99 L345.50,479.45 L347.24,478.90 L348.98,478.35 L350.71,477.81 L352.45,477.26 L354.18,476.72 L355.92,476.16 L357.65,475.60 L359.39,475.03 L361.12,474.44 L362.86,473.85 L364.59,473.26 L366.33,472.67 L368.06,472.08 L369.80,471.50 L371.53,470.91 L373.27,470.33 L375.00,469.75 L376.74,469.16 L378.47,468.56 L380.21,467.95 L381.94,467.33 L383.68,466.70 L385.41,466.07 L387.15,465.45 L388.88,464.82 L390.62,464.21 L392.35,463.63 L394.09,463.05 L395.82,462.44 L397.56,461.79 L399.29,461.08 L401.03,460.29 L402.76,459.43 L404.50,458.54 L406.23,457.62 L407.97,456.70 L409.70,455.80" stroke="#5cb565" class="cv"/>
<path d="M306.95,495.29 L307.34,494.59 L307.72,493.86 L308.10,493.13 L308.48,492.43 L308.86,491.79 L309.24,491.22 L309.66,490.68 L310.08,490.19 L310.49,489.75 L310.91,489.37 L311.33,489.05 L311.74,488.80 L312.45,488.50 L313.16,488.30 L313.88,488.16 L314.59,488.04 L315.30,487.90 L316.01,487.70 L316.88,487.38 L317.75,487.02 L318.61,486.65 L319.48,486.26 L320.35,485.88 L321.22,485.50 L322.08,485.13 L322.95,484.76 L323.82,484.38 L324.69,484.01 L325.55,483.65 L326.42,483.30 L328.16,482.62 L329.89,481.95 L331.62,481.29 L333.36,480.63 L335.10,479.98 L336.83,479.34 L338.56,478.70 L340.30,478.08 L342.04,477.46 L343.77,476.84 L345.50,476.22 L347.24,475.60 L348.98,474.98 L350.71,474.37 L352.45,473.76 L354.18,473.14 L355.92,472.51 L357.65,471.86 L359.39,471.19 L361.12,470.51 L362.86,469.81 L364.59,469.11 L366.33,468.39 L368.06,467.68 L369.80,466.96 L371.53,466.23 L373.27,465.49 L375.00,464.75 L376.74,464.02 L378.47,463.28 L380.21,462.55 L381.94,461.83 L383.68,461.11 L385.41,460.38 L387.15,459.64 L388.88,458.88 L390.62,458.11 L392.35,457.35 L394.09,456.57 L395.82,455.77 L397.56,454.93 L399.29,454.04 L401.03,453.09 L402.76,452.08 L404.50,451.04 L406.23,449.98 L407.97,448.92 L409.70,447.88" stroke="#eba24a" class="cv"/>
<path d="M306.95,495.18 L307.34,494.38 L307.72,493.55 L308.10,492.73 L308.48,491.93 L308.86,491.20 L309.24,490.56 L309.66,489.96 L310.08,489.42 L310.49,488.95 L310.91,488.54 L311.33,488.20 L311.74,487.92 L312.45,487.57 L313.16,487.33 L313.88,487.16 L314.59,487.01 L315.30,486.83 L316.01,486.60 L316.88,486.24 L317.75,485.85 L318.61,485.44 L319.48,485.01 L320.35,484.59 L321.22,484.18 L322.08,483.77 L322.95,483.37 L323.82,482.96 L324.69,482.56 L325.55,482.15 L326.42,481.76 L328.16,480.98 L329.89,480.20 L331.62,479.43 L333.36,478.66 L335.10,477.90 L336.83,477.14 L338.56,476.39 L340.30,475.66 L342.04,474.93 L343.77,474.20 L345.50,473.47 L347.24,472.74 L348.98,472.01 L350.71,471.29 L352.45,470.57 L354.18,469.84 L355.92,469.10 L357.65,468.34 L359.39,467.56 L361.12,466.78 L362.86,465.98 L364.59,465.16 L366.33,464.34 L368.06,463.50 L369.80,462.65 L371.53,461.78 L373.27,460.90 L375.00,460.01 L376.74,459.12 L378.47,458.22 L380.21,457.32 L381.94,456.42 L383.68,455.51 L385.41,454.59 L387.15,453.66 L388.88,452.72 L390.62,451.76 L392.35,450.80 L394.09,449.82 L395.82,448.83 L397.56,447.81 L399.29,446.78 L401.03,445.72 L402.76,444.63 L404.50,443.52 L406.23,442.40 L407.97,441.29 L409.70,440.18" stroke="#56677a" class="cv"/>
<path d="M306.95,495.07 L307.34,494.18 L307.72,493.26 L308.10,492.33 L308.48,491.44 L308.86,490.62 L309.24,489.90 L309.66,489.21 L310.08,488.59 L310.49,488.04 L310.91,487.55 L311.33,487.15 L311.74,486.82 L312.45,486.41 L313.16,486.13 L313.88,485.92 L314.59,485.74 L315.30,485.54 L316.01,485.28 L316.88,484.88 L317.75,484.46 L318.61,484.02 L319.48,483.56 L320.35,483.10 L321.22,482.64 L322.08,482.17 L322.95,481.69 L323.82,481.20 L324.69,480.71 L325.55,480.23 L326.42,479.78 L328.16,478.91 L329.89,478.04 L331.62,477.20 L333.36,476.36 L335.10,475.53 L336.83,474.72 L338.56,473.93 L340.30,473.17 L342.04,472.42 L343.77,471.67 L345.50,470.90 L347.24,470.10 L348.98,469.26 L350.71,468.39 L352.45,467.50 L354.18,466.60 L355.92,465.71 L357.65,464.82 L359.39,463.95 L361.12,463.09 L362.86,462.24 L364.59,461.37 L366.33,460.47 L368.06,459.54 L369.80,458.57 L371.53,457.57 L373.27,456.54 L375.00,455.50 L376.74,454.44 L378.47,453.38 L380.21,452.31 L381.94,451.24 L383.68,450.15 L385.41,449.05 L387.15,447.92 L388.88,446.78 L390.62,445.61 L392.35,444.43 L394.09,443.22 L395.82,442.00 L397.56,440.76 L399.29,439.52 L401.03,438.26 L402.76,436.99 L404.50,435.70 L406.23,434.40 L407.97,433.11 L409.70,431.82" stroke="#46668c" class="cv"/>
<path d="M306.95,494.96 L307.34,493.90 L307.72,492.79 L308.10,491.69 L308.48,490.63 L308.86,489.65 L309.24,488.80 L309.66,488.00 L310.08,487.30 L310.49,486.67 L310.91,486.13 L311.33,485.67 L311.74,485.28 L312.45,484.75 L313.16,484.34 L313.88,484.01 L314.59,483.72 L315.30,483.42 L316.01,483.08 L316.88,482.62 L317.75,482.15 L318.61,481.67 L319.48,481.20 L320.35,480.71 L321.22,480.22 L322.08,479.72 L322.95,479.22 L323.82,478.70 L324.69,478.19 L325.55,477.66 L326.42,477.14 L328.16,476.08 L329.89,475.00 L331.62,473.92 L333.36,472.84 L335.10,471.79 L336.83,470.76 L338.56,469.77 L340.30,468.80 L342.04,467.86 L343.77,466.92 L345.50,465.99 L347.24,465.04 L348.98,464.10 L350.71,463.17 L352.45,462.25 L354.18,461.31 L355.92,460.34 L357.65,459.32 L359.39,458.26 L361.12,457.16 L362.86,456.03 L364.59,454.88 L366.33,453.70 L368.06,452.50 L369.80,451.28 L371.53,450.04 L373.27,448.77 L375.00,447.48 L376.74,446.16 L378.47,444.80 L380.21,443.40 L381.94,441.97 L383.68,440.51 L385.41,439.02 L387.15,437.52 L388.88,436.00 L390.62,434.47 L392.35,432.92 L394.09,431.35 L395.82,429.77 L397.56,428.16 L399.29,426.54 L401.03,424.89 L402.76,423.22 L404.50,421.52 L406.23,419.82 L407.97,418.11 L409.70,416.42" stroke="#5e4638" class="cv"/>
<rect x="295.80" y="378.20" width="217.50" height="125.00" class="box"/>
<line x1="292.60" y1="497.60" x2="295.80" y2="497.60" class="tk"/>
<text x="289.50" y="499.80" class="tl" text-anchor="end">5</text>
<line x1="292.60" y1="475.60" x2="295.80" y2="475.60" class="tk"/>
<text x="289.50" y="477.80" class="tl" text-anchor="end">15</text>
<line x1="292.60" y1="453.60" x2="295.80" y2="453.60" class="tk"/>
<text x="289.50" y="455.80" class="tl" text-anchor="end">25</text>
<line x1="292.60" y1="431.60" x2="295.80" y2="431.60" class="tk"/>
<text x="289.50" y="433.80" class="tl" text-anchor="end">35</text>
<line x1="292.60" y1="409.60" x2="295.80" y2="409.60" class="tk"/>
<text x="289.50" y="411.80" class="tl" text-anchor="end">45</text>
<line x1="292.60" y1="387.60" x2="295.80" y2="387.60" class="tk"/>
<text x="289.50" y="389.80" class="tl" text-anchor="end">55</text>
<line x1="305.60" y1="503.20" x2="305.60" y2="506.60" class="tk"/>
<text x="305.60" y="515.40" class="tl" text-anchor="middle">0</text>
<line x1="316.01" y1="503.20" x2="316.01" y2="506.60" class="tk"/>
<text x="316.01" y="515.40" class="tl" text-anchor="middle">1</text>
<line x1="326.42" y1="503.20" x2="326.42" y2="506.60" class="tk"/>
<text x="326.42" y="515.40" class="tl" text-anchor="middle">2</text>
<line x1="336.83" y1="503.20" x2="336.83" y2="506.60" class="tk"/>
<text x="336.83" y="515.40" class="tl" text-anchor="middle">3</text>
<line x1="347.24" y1="503.20" x2="347.24" y2="506.60" class="tk"/>
<text x="347.24" y="515.40" class="tl" text-anchor="middle">4</text>
<line x1="357.65" y1="503.20" x2="357.65" y2="506.60" class="tk"/>
<text x="357.65" y="515.40" class="tl" text-anchor="middle">5</text>
<line x1="368.06" y1="503.20" x2="368.06" y2="506.60" class="tk"/>
<text x="368.06" y="515.40" class="tl" text-anchor="middle">6</text>
<line x1="378.47" y1="503.20" x2="378.47" y2="506.60" class="tk"/>
<text x="378.47" y="515.40" class="tl" text-anchor="middle">7</text>
<line x1="388.88" y1="503.20" x2="388.88" y2="506.60" class="tk"/>
<text x="388.88" y="515.40" class="tl" text-anchor="middle">8</text>
<line x1="399.29" y1="503.20" x2="399.29" y2="506.60" class="tk"/>
<text x="399.29" y="515.40" class="tl" text-anchor="middle">9</text>
<line x1="409.70" y1="503.20" x2="409.70" y2="506.60" class="tk"/>
<text x="409.70" y="515.40" class="tl" text-anchor="middle">10</text>
<line x1="420.11" y1="503.20" x2="420.11" y2="506.60" class="tk"/>
<text x="420.11" y="515.40" class="tl" text-anchor="middle">11</text>
<line x1="430.52" y1="503.20" x2="430.52" y2="506.60" class="tk"/>
<text x="430.52" y="515.40" class="tl" text-anchor="middle">12</text>
<line x1="440.93" y1="503.20" x2="440.93" y2="506.60" class="tk"/>
<text x="440.93" y="515.40" class="tl" text-anchor="middle">13</text>
<line x1="451.34" y1="503.20" x2="451.34" y2="506.60" class="tk"/>
<text x="451.34" y="515.40" class="tl" text-anchor="middle">14</text>
<line x1="461.75" y1="503.20" x2="461.75" y2="506.60" class="tk"/>
<text x="461.75" y="515.40" class="tl" text-anchor="middle">15</text>
<line x1="472.16" y1="503.20" x2="472.16" y2="506.60" class="tk"/>
<text x="472.16" y="515.40" class="tl" text-anchor="middle">16</text>
<line x1="482.57" y1="503.20" x2="482.57" y2="506.60" class="tk"/>
<text x="482.57" y="515.40" class="tl" text-anchor="middle">17</text>
<line x1="492.98" y1="503.20" x2="492.98" y2="506.60" class="tk"/>
<text x="492.98" y="515.40" class="tl" text-anchor="middle">18</text>
<line x1="503.39" y1="503.20" x2="503.39" y2="506.60" class="tk"/>
<text x="503.39" y="515.40" class="tl" text-anchor="middle">19</text>
<text x="404.55" y="527.50" class="al" text-anchor="middle" textLength="31.5" lengthAdjust="spacingAndGlyphs">Age (years)</text>
<text transform="translate(276.60,441.30) rotate(-90)" class="al" text-anchor="middle" textLength="31.2" lengthAdjust="spacingAndGlyphs">Weight (kg)</text>
<text x="45" y="33.7" class="lg">Centile</text>
<line x1="44.6" y1="41.6" x2="62.7" y2="41.6" stroke="#5e4638" class="cv"/>
<text x="65.8" y="43.70" class="lg">95%</text>
<line x1="44.6" y1="51.9" x2="62.7" y2="51.9" stroke="#46668c" class="cv"/>
<text x="65.8" y="54.00" class="lg">75%</text>
<line x1="44.6" y1="62.2" x2="62.7" y2="62.2" stroke="#56677a" class="cv"/>
<text x="65.8" y="64.30" class="lg">50%</text>
<line x1="44.6" y1="72.4" x2="62.7" y2="72.4" stroke="#eba24a" class="cv"/>
<text x="65.8" y="74.50" class="lg">25%</text>
<line x1="44.6" y1="82.7" x2="62.7" y2="82.7" stroke="#5cb565" class="cv"/>
<text x="65.8" y="84.80" class="lg">5%</text>
<text x="91.9" y="33.7" class="lg">Source</text>
<line x1="91.4" y1="41.5" x2="108.8" y2="41.5" stroke="#222" class="cv"/>
<text x="112.5" y="43.8" class="lg" textLength="16.8" lengthAdjust="spacingAndGlyphs">WHO</text>
<line x1="91.6" y1="51.6" x2="108.8" y2="51.6" stroke="#333" class="cv" stroke-dasharray="1.7,1.9"/>
<text x="112.5" y="53.8" class="lg">Kilifi</text>
</svg>
</body></html>
